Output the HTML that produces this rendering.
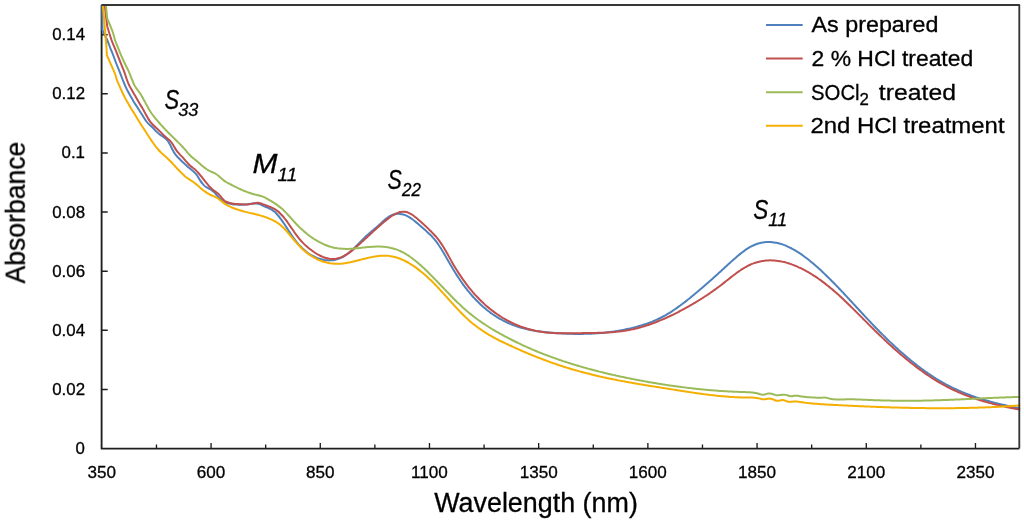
<!DOCTYPE html><html><head><meta charset="utf-8"><style>html,body{margin:0;padding:0;background:#fff;}svg{display:block;}text{font-family:"Liberation Sans",sans-serif;fill:#000;stroke:#000;stroke-width:0.3px;}</style></head><body>
<svg width="1024" height="521" viewBox="0 0 1024 521">
<rect width="1024" height="521" fill="#fff"/>
<defs><clipPath id="pc"><rect x="101.0" y="4.0" width="919.2" height="445.5"/></clipPath><filter id="gs" x="0" y="0" width="1024" height="521" filterUnits="userSpaceOnUse" color-interpolation-filters="sRGB"><feColorMatrix type="saturate" values="0"/></filter></defs>
<path d="M101.6,5.0 L101.6,448.65 L1019.3,448.65" fill="none" stroke="#1e1e1e" stroke-width="1.85" stroke-linejoin="round"/>
<path d="M156.47,448 V444.5 M211.07,448 V442.9 M265.67,448 V444.5 M320.27,448 V442.9 M374.87,448 V444.5 M429.47,448 V442.9 M484.07,448 V444.5 M538.67,448 V442.9 M593.27,448 V444.5 M647.87,448 V442.9 M702.47,448 V444.5 M757.07,448 V442.9 M811.67,448 V444.5 M866.27,448 V442.9 M920.87,448 V444.5 M975.47,448 V442.9" stroke="#1e1e1e" stroke-width="1.35" fill="none"/>
<path d="M101.5,389.47 H107.7 M101.5,330.34 H107.7 M101.5,271.21 H107.7 M101.5,212.08 H107.7 M101.5,152.95 H107.7 M101.5,93.82 H107.7 M101.5,34.69 H107.7" stroke="#1e1e1e" stroke-width="1.5" fill="none"/>
<g clip-path="url(#pc)" fill="none" stroke-width="2" stroke-linejoin="round" stroke-linecap="round">
<path d="M102.30,4.00 L102.50,30.00 L103.40,32.40 C104.03,33.67 106.07,37.43 107.20,40.00 C108.33,42.57 109.18,45.22 110.20,47.80 C111.22,50.38 112.32,52.97 113.30,55.50 C114.28,58.03 115.12,60.47 116.10,63.00 C117.08,65.53 118.08,67.87 119.20,70.70 C120.32,73.53 121.78,77.43 122.80,80.00 C123.82,82.57 124.37,84.05 125.30,86.10 C126.23,88.15 127.37,90.37 128.40,92.30 C129.43,94.23 130.48,95.92 131.50,97.70 C132.52,99.48 133.48,101.35 134.50,103.00 C135.52,104.65 136.63,106.10 137.60,107.60 C138.57,109.10 139.52,110.75 140.30,111.99 C141.08,113.22 141.63,113.95 142.30,114.99 C142.97,116.03 143.63,117.18 144.30,118.23 C144.97,119.27 145.63,120.35 146.30,121.25 C146.97,122.15 147.63,122.94 148.30,123.64 C148.97,124.34 149.63,124.86 150.30,125.47 C150.97,126.09 151.63,126.67 152.30,127.32 C152.97,127.97 153.63,128.69 154.30,129.38 C154.97,130.07 155.63,130.80 156.30,131.46 C156.97,132.12 157.63,132.78 158.30,133.35 C158.97,133.93 159.63,134.42 160.30,134.89 C160.97,135.37 161.63,135.76 162.30,136.20 C162.97,136.64 163.63,137.02 164.30,137.52 C164.97,138.02 165.63,138.50 166.30,139.18 C166.97,139.85 167.63,140.59 168.30,141.57 C168.97,142.55 169.63,143.78 170.30,145.07 C170.97,146.35 171.63,147.99 172.30,149.29 C172.97,150.58 173.63,151.81 174.30,152.86 C174.97,153.90 175.63,154.75 176.30,155.56 C176.97,156.38 177.63,157.05 178.30,157.74 C178.97,158.43 179.63,159.07 180.30,159.72 C180.97,160.38 181.63,161.03 182.30,161.67 C182.97,162.31 183.63,162.94 184.30,163.56 C184.97,164.18 185.63,164.80 186.30,165.40 C186.97,166.00 187.63,166.59 188.30,167.17 C188.97,167.74 189.63,168.30 190.30,168.86 C190.97,169.41 191.63,169.92 192.30,170.48 C192.97,171.05 193.63,171.59 194.30,172.25 C194.97,172.91 195.63,173.59 196.30,174.44 C196.97,175.29 197.63,176.31 198.30,177.34 C198.97,178.37 199.63,179.61 200.30,180.62 C200.97,181.64 201.63,182.61 202.30,183.45 C202.97,184.28 203.63,185.01 204.30,185.62 C204.97,186.23 205.63,186.67 206.30,187.09 C206.97,187.52 207.63,187.80 208.30,188.16 C208.97,188.52 209.63,188.83 210.30,189.24 C210.97,189.65 211.63,190.09 212.30,190.62 C212.97,191.15 213.63,191.74 214.30,192.41 C214.97,193.08 215.63,193.87 216.30,194.62 C216.97,195.37 217.63,196.20 218.30,196.92 C218.97,197.64 219.63,198.33 220.30,198.94 C220.97,199.54 221.63,200.06 222.30,200.54 C222.97,201.01 223.63,201.42 224.30,201.78 C224.97,202.14 225.63,202.44 226.30,202.71 C226.97,202.98 227.63,203.19 228.30,203.39 C228.97,203.58 229.63,203.73 230.30,203.86 C230.97,203.99 231.63,204.09 232.30,204.18 C232.97,204.27 233.63,204.35 234.30,204.41 C234.97,204.47 235.63,204.53 236.30,204.57 C236.97,204.61 237.63,204.64 238.30,204.66 C238.97,204.69 239.63,204.70 240.30,204.70 C240.97,204.70 241.63,204.69 242.30,204.67 C242.97,204.65 243.63,204.62 244.30,204.58 C244.97,204.54 245.63,204.49 246.30,204.43 C246.97,204.37 247.63,204.30 248.30,204.22 C248.97,204.15 249.63,204.05 250.30,203.96 C250.97,203.87 251.63,203.77 252.30,203.69 C252.97,203.61 253.63,203.53 254.30,203.49 C254.97,203.46 255.63,203.44 256.30,203.48 C256.97,203.52 257.63,203.60 258.30,203.75 C258.97,203.90 259.63,204.13 260.30,204.39 C260.97,204.65 261.63,205.00 262.30,205.32 C262.97,205.63 263.63,205.98 264.30,206.29 C264.97,206.59 265.63,206.86 266.30,207.14 C266.97,207.42 267.63,207.67 268.30,207.97 C268.97,208.26 269.63,208.55 270.30,208.89 C270.97,209.24 271.63,209.60 272.30,210.05 C272.97,210.49 273.63,210.99 274.30,211.56 C274.97,212.13 275.63,212.78 276.30,213.47 C276.97,214.17 277.63,214.94 278.30,215.74 C278.97,216.54 279.63,217.41 280.30,218.30 C280.97,219.19 281.63,220.13 282.30,221.08 C282.97,222.04 283.63,223.03 284.30,224.03 C284.97,225.03 285.63,226.06 286.30,227.08 C286.97,228.10 287.63,229.14 288.30,230.17 C288.97,231.19 289.63,232.23 290.30,233.23 C290.97,234.24 291.63,235.24 292.30,236.21 C292.97,237.18 293.63,238.13 294.30,239.04 C294.97,239.94 295.63,240.82 296.30,241.66 C296.97,242.50 297.63,243.30 298.30,244.06 C298.97,244.83 299.63,245.57 300.30,246.27 C300.97,246.97 301.63,247.64 302.30,248.27 C302.97,248.91 303.63,249.52 304.30,250.09 C304.97,250.67 305.63,251.21 306.30,251.73 C306.97,252.25 307.63,252.74 308.30,253.21 C308.97,253.67 309.63,254.11 310.30,254.52 C310.97,254.93 311.63,255.32 312.30,255.68 C312.97,256.04 313.63,256.38 314.30,256.70 C314.97,257.02 315.63,257.31 316.30,257.59 C316.97,257.86 317.63,258.12 318.30,258.35 C318.97,258.59 319.63,258.81 320.30,259.00 C320.97,259.20 321.63,259.38 322.30,259.54 C322.97,259.69 323.63,259.83 324.30,259.94 C324.97,260.06 325.63,260.15 326.30,260.22 C326.97,260.29 327.63,260.34 328.30,260.37 C328.97,260.39 329.63,260.40 330.30,260.37 C330.97,260.35 331.63,260.31 332.30,260.23 C332.97,260.16 333.63,260.06 334.30,259.94 C334.97,259.82 335.63,259.67 336.30,259.49 C336.97,259.32 337.63,259.11 338.30,258.88 C338.97,258.65 339.63,258.39 340.30,258.10 C340.97,257.81 341.63,257.50 342.30,257.15 C342.97,256.80 343.63,256.42 344.30,256.02 C344.97,255.61 345.63,255.17 346.30,254.71 C346.97,254.24 347.63,253.75 348.30,253.23 C348.97,252.72 349.63,252.18 350.30,251.62 C350.97,251.06 351.63,250.47 352.30,249.87 C352.97,249.27 353.63,248.65 354.30,248.02 C354.97,247.39 355.63,246.74 356.30,246.08 C356.97,245.42 357.63,244.74 358.30,244.06 C358.97,243.38 359.63,242.68 360.30,241.99 C360.97,241.30 361.63,240.60 362.30,239.92 C362.97,239.24 363.63,238.56 364.30,237.91 C364.97,237.26 365.63,236.62 366.30,236.00 C366.97,235.38 367.63,234.79 368.30,234.20 C368.97,233.61 369.63,233.03 370.30,232.46 C370.97,231.89 371.63,231.34 372.30,230.78 C372.97,230.22 373.63,229.66 374.30,229.10 C374.97,228.54 375.63,227.98 376.30,227.41 C376.97,226.84 377.63,226.27 378.30,225.68 C378.97,225.09 379.63,224.48 380.30,223.87 C380.97,223.26 381.63,222.63 382.30,222.02 C382.97,221.41 383.63,220.80 384.30,220.21 C384.97,219.63 385.63,219.05 386.30,218.53 C386.97,218.00 387.63,217.49 388.30,217.04 C388.97,216.59 389.63,216.18 390.30,215.82 C390.97,215.47 391.63,215.16 392.30,214.90 C392.97,214.65 393.63,214.43 394.30,214.27 C394.97,214.10 395.63,213.98 396.30,213.90 C396.97,213.82 397.63,213.79 398.30,213.79 C398.97,213.80 399.63,213.84 400.30,213.93 C400.97,214.01 401.63,214.14 402.30,214.30 C402.97,214.46 403.63,214.66 404.30,214.90 C404.97,215.13 405.63,215.40 406.30,215.70 C406.97,216.00 407.63,216.34 408.30,216.71 C408.97,217.07 409.63,217.48 410.30,217.90 C410.97,218.33 411.63,218.79 412.30,219.26 C412.97,219.74 413.63,220.25 414.30,220.77 C414.97,221.29 415.63,221.83 416.30,222.38 C416.97,222.94 417.63,223.51 418.30,224.08 C418.97,224.66 419.63,225.24 420.30,225.83 C420.97,226.42 421.63,227.01 422.30,227.60 C422.97,228.19 423.63,228.78 424.30,229.37 C424.97,229.95 425.63,230.52 426.30,231.11 C426.97,231.70 427.63,232.28 428.30,232.89 C428.97,233.50 429.63,234.12 430.30,234.78 C430.97,235.44 431.63,236.11 432.30,236.84 C432.97,237.57 433.63,238.33 434.30,239.14 C434.97,239.96 435.63,240.82 436.30,241.72 C436.97,242.63 437.63,243.57 438.30,244.55 C438.97,245.53 439.63,246.54 440.30,247.58 C440.97,248.62 441.63,249.69 442.30,250.78 C442.97,251.86 443.63,252.98 444.30,254.10 C444.97,255.22 445.63,256.36 446.30,257.50 C446.97,258.64 447.63,259.80 448.30,260.95 C448.97,262.10 449.63,263.25 450.30,264.40 C450.97,265.54 451.63,266.69 452.30,267.82 C452.97,268.94 453.63,270.06 454.30,271.16 C454.97,272.25 455.63,273.33 456.30,274.38 C456.97,275.44 457.63,276.47 458.30,277.48 C458.97,278.50 459.63,279.49 460.30,280.47 C460.97,281.44 461.63,282.39 462.30,283.33 C462.97,284.26 463.63,285.18 464.30,286.07 C464.97,286.97 465.63,287.85 466.30,288.71 C466.97,289.57 467.63,290.41 468.30,291.23 C468.97,292.06 469.63,292.86 470.30,293.65 C470.97,294.44 471.63,295.21 472.30,295.96 C472.97,296.72 473.63,297.46 474.30,298.18 C474.97,298.90 475.63,299.60 476.30,300.29 C476.97,300.98 477.63,301.65 478.30,302.31 C478.97,302.97 479.63,303.61 480.30,304.24 C480.97,304.86 481.63,305.47 482.30,306.07 C482.97,306.67 483.63,307.25 484.30,307.82 C484.97,308.39 485.63,308.94 486.30,309.49 C486.97,310.03 487.63,310.56 488.30,311.07 C488.97,311.59 489.63,312.09 490.30,312.58 C490.97,313.07 491.63,313.54 492.30,314.01 C492.97,314.47 493.63,314.92 494.30,315.36 C494.97,315.81 495.63,316.23 496.30,316.65 C496.97,317.07 497.63,317.48 498.30,317.87 C498.97,318.27 499.63,318.66 500.30,319.03 C500.97,319.40 501.63,319.77 502.30,320.12 C502.97,320.48 503.63,320.82 504.30,321.16 C504.97,321.49 505.63,321.81 506.30,322.13 C506.97,322.44 507.63,322.75 508.30,323.04 C508.97,323.34 509.63,323.63 510.30,323.90 C510.97,324.18 511.63,324.45 512.30,324.71 C512.97,324.97 513.63,325.23 514.30,325.47 C514.97,325.71 515.63,325.95 516.30,326.18 C516.97,326.40 517.63,326.62 518.30,326.84 C518.97,327.05 519.63,327.25 520.30,327.45 C520.97,327.65 521.63,327.84 522.30,328.02 C522.97,328.21 523.63,328.39 524.30,328.56 C524.97,328.73 525.63,328.89 526.30,329.05 C526.97,329.21 527.63,329.36 528.30,329.50 C528.97,329.65 529.63,329.79 530.30,329.92 C530.97,330.06 531.63,330.19 532.30,330.31 C532.97,330.43 533.63,330.55 534.30,330.66 C534.97,330.78 535.63,330.89 536.30,330.99 C536.97,331.09 537.63,331.19 538.30,331.29 C538.97,331.38 539.63,331.48 540.30,331.56 C540.97,331.65 541.63,331.73 542.30,331.81 C542.97,331.89 543.63,331.97 544.30,332.04 C544.97,332.12 545.63,332.19 546.30,332.25 C546.97,332.32 547.63,332.38 548.30,332.45 C548.97,332.51 549.63,332.57 550.30,332.62 C550.97,332.68 551.63,332.74 552.30,332.79 C552.97,332.84 553.63,332.89 554.30,332.94 C554.97,332.99 555.63,333.04 556.30,333.08 C556.97,333.13 557.63,333.18 558.30,333.22 C558.97,333.26 559.63,333.30 560.30,333.34 C560.97,333.38 561.63,333.42 562.30,333.45 C562.97,333.49 563.63,333.52 564.30,333.55 C564.97,333.58 565.63,333.61 566.30,333.64 C566.97,333.67 567.63,333.70 568.30,333.72 C568.97,333.74 569.63,333.76 570.30,333.78 C570.97,333.80 571.63,333.82 572.30,333.84 C572.97,333.85 573.63,333.86 574.30,333.88 C574.97,333.89 575.63,333.90 576.30,333.90 C576.97,333.91 577.63,333.91 578.30,333.91 C578.97,333.92 579.63,333.92 580.30,333.91 C580.97,333.91 581.63,333.91 582.30,333.90 C582.97,333.89 583.63,333.88 584.30,333.87 C584.97,333.86 585.63,333.84 586.30,333.82 C586.97,333.81 587.63,333.79 588.30,333.76 C588.97,333.74 589.63,333.72 590.30,333.69 C590.97,333.66 591.63,333.63 592.30,333.60 C592.97,333.56 593.63,333.53 594.30,333.49 C594.97,333.45 595.63,333.41 596.30,333.36 C596.97,333.32 597.63,333.27 598.30,333.22 C598.97,333.17 599.63,333.12 600.30,333.06 C600.97,333.01 601.63,332.95 602.30,332.89 C602.97,332.83 603.63,332.76 604.30,332.69 C604.97,332.63 605.63,332.55 606.30,332.48 C606.97,332.41 607.63,332.33 608.30,332.25 C608.97,332.17 609.63,332.09 610.30,332.00 C610.97,331.91 611.63,331.82 612.30,331.73 C612.97,331.64 613.63,331.54 614.30,331.44 C614.97,331.34 615.63,331.24 616.30,331.13 C616.97,331.03 617.63,330.92 618.30,330.80 C618.97,330.69 619.63,330.57 620.30,330.45 C620.97,330.33 621.63,330.21 622.30,330.08 C622.97,329.95 623.63,329.82 624.30,329.69 C624.97,329.56 625.63,329.42 626.30,329.28 C626.97,329.13 627.63,328.99 628.30,328.84 C628.97,328.69 629.63,328.54 630.30,328.38 C630.97,328.22 631.63,328.06 632.30,327.90 C632.97,327.74 633.63,327.57 634.30,327.40 C634.97,327.22 635.63,327.05 636.30,326.87 C636.97,326.69 637.63,326.51 638.30,326.32 C638.97,326.13 639.63,325.94 640.30,325.74 C640.97,325.54 641.63,325.34 642.30,325.13 C642.97,324.93 643.63,324.72 644.30,324.50 C644.97,324.28 645.63,324.06 646.30,323.83 C646.97,323.60 647.63,323.37 648.30,323.12 C648.97,322.88 649.63,322.64 650.30,322.38 C650.97,322.13 651.63,321.87 652.30,321.60 C652.97,321.33 653.63,321.06 654.30,320.77 C654.97,320.49 655.63,320.20 656.30,319.90 C656.97,319.60 657.63,319.30 658.30,318.98 C658.97,318.67 659.63,318.35 660.30,318.02 C660.97,317.68 661.63,317.34 662.30,317.00 C662.97,316.65 663.63,316.29 664.30,315.92 C664.97,315.55 665.63,315.18 666.30,314.79 C666.97,314.40 667.63,314.01 668.30,313.60 C668.97,313.20 669.63,312.78 670.30,312.36 C670.97,311.94 671.63,311.50 672.30,311.07 C672.97,310.63 673.63,310.18 674.30,309.73 C674.97,309.27 675.63,308.81 676.30,308.34 C676.97,307.87 677.63,307.40 678.30,306.92 C678.97,306.43 679.63,305.95 680.30,305.45 C680.97,304.96 681.63,304.46 682.30,303.95 C682.97,303.45 683.63,302.94 684.30,302.42 C684.97,301.91 685.63,301.39 686.30,300.86 C686.97,300.34 687.63,299.81 688.30,299.28 C688.97,298.75 689.63,298.21 690.30,297.67 C690.97,297.13 691.63,296.59 692.30,296.05 C692.97,295.50 693.63,294.95 694.30,294.40 C694.97,293.85 695.63,293.29 696.30,292.74 C696.97,292.18 697.63,291.62 698.30,291.05 C698.97,290.49 699.63,289.93 700.30,289.36 C700.97,288.79 701.63,288.22 702.30,287.64 C702.97,287.07 703.63,286.49 704.30,285.92 C704.97,285.34 705.63,284.76 706.30,284.17 C706.97,283.59 707.63,283.01 708.30,282.42 C708.97,281.83 709.63,281.24 710.30,280.65 C710.97,280.06 711.63,279.47 712.30,278.88 C712.97,278.28 713.63,277.69 714.30,277.09 C714.97,276.49 715.63,275.89 716.30,275.29 C716.97,274.69 717.63,274.09 718.30,273.49 C718.97,272.88 719.63,272.28 720.30,271.67 C720.97,271.07 721.63,270.46 722.30,269.85 C722.97,269.24 723.63,268.63 724.30,268.02 C724.97,267.41 725.63,266.80 726.30,266.19 C726.97,265.58 727.63,264.97 728.30,264.36 C728.97,263.75 729.63,263.14 730.30,262.53 C730.97,261.93 731.63,261.32 732.30,260.72 C732.97,260.12 733.63,259.53 734.30,258.94 C734.97,258.35 735.63,257.77 736.30,257.20 C736.97,256.63 737.63,256.06 738.30,255.51 C738.97,254.95 739.63,254.41 740.30,253.87 C740.97,253.34 741.63,252.82 742.30,252.31 C742.97,251.80 743.63,251.31 744.30,250.83 C744.97,250.35 745.63,249.88 746.30,249.44 C746.97,248.99 747.63,248.56 748.30,248.15 C748.97,247.74 749.63,247.34 750.30,246.97 C750.97,246.60 751.63,246.25 752.30,245.92 C752.97,245.59 753.63,245.28 754.30,244.99 C754.97,244.71 755.63,244.44 756.30,244.20 C756.97,243.96 757.63,243.74 758.30,243.53 C758.97,243.33 759.63,243.15 760.30,242.99 C760.97,242.83 761.63,242.69 762.30,242.57 C762.97,242.45 763.63,242.35 764.30,242.27 C764.97,242.19 765.63,242.13 766.30,242.09 C766.97,242.04 767.63,242.02 768.30,242.01 C768.97,242.01 769.63,242.02 770.30,242.05 C770.97,242.08 771.63,242.13 772.30,242.19 C772.97,242.26 773.63,242.34 774.30,242.44 C774.97,242.54 775.63,242.65 776.30,242.78 C776.97,242.92 777.63,243.06 778.30,243.23 C778.97,243.39 779.63,243.57 780.30,243.77 C780.97,243.96 781.63,244.17 782.30,244.40 C782.97,244.62 783.63,244.86 784.30,245.12 C784.97,245.37 785.63,245.64 786.30,245.92 C786.97,246.20 787.63,246.50 788.30,246.81 C788.97,247.12 789.63,247.44 790.30,247.77 C790.97,248.11 791.63,248.46 792.30,248.82 C792.97,249.18 793.63,249.55 794.30,249.93 C794.97,250.32 795.63,250.72 796.30,251.12 C796.97,251.53 797.63,251.95 798.30,252.38 C798.97,252.81 799.63,253.25 800.30,253.70 C800.97,254.15 801.63,254.61 802.30,255.08 C802.97,255.55 803.63,256.03 804.30,256.52 C804.97,257.01 805.63,257.51 806.30,258.02 C806.97,258.53 807.63,259.04 808.30,259.57 C808.97,260.09 809.63,260.63 810.30,261.17 C810.97,261.71 811.63,262.26 812.30,262.82 C812.97,263.37 813.63,263.94 814.30,264.51 C814.97,265.08 815.63,265.66 816.30,266.25 C816.97,266.84 817.63,267.43 818.30,268.03 C818.97,268.63 819.63,269.24 820.30,269.85 C820.97,270.46 821.63,271.08 822.30,271.71 C822.97,272.33 823.63,272.96 824.30,273.60 C824.97,274.23 825.63,274.88 826.30,275.52 C826.97,276.17 827.63,276.82 828.30,277.48 C828.97,278.14 829.63,278.80 830.30,279.47 C830.97,280.13 831.63,280.81 832.30,281.48 C832.97,282.16 833.63,282.84 834.30,283.52 C834.97,284.20 835.63,284.89 836.30,285.58 C836.97,286.27 837.63,286.96 838.30,287.66 C838.97,288.36 839.63,289.06 840.30,289.76 C840.97,290.46 841.63,291.17 842.30,291.87 C842.97,292.58 843.63,293.29 844.30,294.00 C844.97,294.72 845.63,295.43 846.30,296.15 C846.97,296.86 847.63,297.58 848.30,298.30 C848.97,299.02 849.63,299.74 850.30,300.46 C850.97,301.18 851.63,301.90 852.30,302.62 C852.97,303.35 853.63,304.07 854.30,304.79 C854.97,305.51 855.63,306.24 856.30,306.96 C856.97,307.68 857.63,308.41 858.30,309.13 C858.97,309.85 859.63,310.58 860.30,311.30 C860.97,312.02 861.63,312.74 862.30,313.46 C862.97,314.18 863.63,314.90 864.30,315.61 C864.97,316.33 865.63,317.05 866.30,317.76 C866.97,318.47 867.63,319.18 868.30,319.89 C868.97,320.60 869.63,321.31 870.30,322.01 C870.97,322.72 871.63,323.42 872.30,324.12 C872.97,324.82 873.63,325.51 874.30,326.20 C874.97,326.90 875.63,327.59 876.30,328.27 C876.97,328.96 877.63,329.64 878.30,330.32 C878.97,331.00 879.63,331.67 880.30,332.34 C880.97,333.02 881.63,333.68 882.30,334.35 C882.97,335.01 883.63,335.67 884.30,336.33 C884.97,336.99 885.63,337.64 886.30,338.29 C886.97,338.94 887.63,339.59 888.30,340.23 C888.97,340.87 889.63,341.51 890.30,342.14 C890.97,342.78 891.63,343.41 892.30,344.03 C892.97,344.66 893.63,345.28 894.30,345.90 C894.97,346.52 895.63,347.13 896.30,347.74 C896.97,348.35 897.63,348.96 898.30,349.56 C898.97,350.16 899.63,350.76 900.30,351.35 C900.97,351.94 901.63,352.53 902.30,353.11 C902.97,353.70 903.63,354.28 904.30,354.85 C904.97,355.43 905.63,356.00 906.30,356.57 C906.97,357.13 907.63,357.69 908.30,358.25 C908.97,358.81 909.63,359.36 910.30,359.91 C910.97,360.46 911.63,361.00 912.30,361.54 C912.97,362.08 913.63,362.61 914.30,363.14 C914.97,363.67 915.63,364.19 916.30,364.71 C916.97,365.23 917.63,365.75 918.30,366.26 C918.97,366.76 919.63,367.27 920.30,367.77 C920.97,368.27 921.63,368.76 922.30,369.25 C922.97,369.74 923.63,370.22 924.30,370.70 C924.97,371.18 925.63,371.66 926.30,372.12 C926.97,372.59 927.63,373.06 928.30,373.51 C928.97,373.97 929.63,374.42 930.30,374.87 C930.97,375.32 931.63,375.76 932.30,376.19 C932.97,376.63 933.63,377.06 934.30,377.49 C934.97,377.91 935.63,378.33 936.30,378.74 C936.97,379.16 937.63,379.57 938.30,379.97 C938.97,380.37 939.63,380.77 940.30,381.16 C940.97,381.55 941.63,381.94 942.30,382.32 C942.97,382.69 943.63,383.07 944.30,383.44 C944.97,383.80 945.63,384.17 946.30,384.52 C946.97,384.88 947.63,385.23 948.30,385.58 C948.97,385.93 949.63,386.27 950.30,386.60 C950.97,386.94 951.63,387.27 952.30,387.59 C952.97,387.92 953.63,388.24 954.30,388.56 C954.97,388.87 955.63,389.18 956.30,389.49 C956.97,389.79 957.63,390.09 958.30,390.39 C958.97,390.69 959.63,390.98 960.30,391.27 C960.97,391.55 961.63,391.84 962.30,392.11 C962.97,392.39 963.63,392.67 964.30,392.94 C964.97,393.20 965.63,393.47 966.30,393.73 C966.97,393.99 967.63,394.25 968.30,394.50 C968.97,394.76 969.63,395.00 970.30,395.25 C970.97,395.50 971.63,395.74 972.30,395.97 C972.97,396.21 973.63,396.45 974.30,396.68 C974.97,396.91 975.63,397.13 976.30,397.36 C976.97,397.58 977.63,397.80 978.30,398.02 C978.97,398.23 979.63,398.45 980.30,398.66 C980.97,398.87 981.63,399.07 982.30,399.28 C982.97,399.48 983.63,399.68 984.30,399.88 C984.97,400.08 985.63,400.27 986.30,400.47 C986.97,400.66 987.63,400.85 988.30,401.03 C988.97,401.22 989.63,401.40 990.30,401.59 C990.97,401.77 991.63,401.95 992.30,402.12 C992.97,402.30 993.63,402.47 994.30,402.65 C994.97,402.82 995.63,402.99 996.30,403.16 C996.97,403.32 997.63,403.49 998.30,403.65 C998.97,403.82 999.63,403.98 1000.30,404.14 C1000.97,404.30 1001.63,404.46 1002.30,404.61 C1002.97,404.77 1003.63,404.92 1004.30,405.08 C1004.97,405.23 1005.63,405.38 1006.30,405.53 C1006.97,405.68 1007.63,405.83 1008.30,405.98 C1008.97,406.12 1009.63,406.27 1010.30,406.41 C1010.97,406.56 1011.63,406.70 1012.30,406.84 C1012.97,406.99 1013.63,407.13 1014.30,407.27 C1014.97,407.41 1015.63,407.55 1016.30,407.69 C1016.97,407.83 1017.68,407.98 1018.30,408.10 C1018.92,408.23 1019.72,408.39 1020.00,408.45" stroke="#4F81BD"/>
<path d="M104.50,4.00 L106.30,19.00 L107.30,26.50 C108.00,28.75 110.28,36.47 111.50,40.00 C112.72,43.53 113.57,45.15 114.60,47.70 C115.63,50.25 116.68,52.75 117.70,55.30 C118.72,57.85 119.68,60.43 120.70,63.00 C121.72,65.57 122.75,67.87 123.80,70.70 C124.85,73.53 126.10,77.55 127.00,80.00 C127.90,82.45 128.33,83.62 129.20,85.40 C130.07,87.18 131.18,88.92 132.20,90.70 C133.22,92.48 134.27,94.30 135.30,96.10 C136.33,97.90 137.58,100.08 138.40,101.50 C139.22,102.92 139.57,103.56 140.20,104.61 C140.83,105.66 141.53,106.65 142.20,107.78 C142.87,108.90 143.53,110.16 144.20,111.39 C144.87,112.61 145.53,113.91 146.20,115.11 C146.87,116.32 147.53,117.53 148.20,118.61 C148.87,119.69 149.53,120.68 150.20,121.58 C150.87,122.47 151.53,123.25 152.20,124.00 C152.87,124.74 153.53,125.40 154.20,126.05 C154.87,126.69 155.53,127.28 156.20,127.89 C156.87,128.49 157.53,129.07 158.20,129.69 C158.87,130.31 159.53,130.95 160.20,131.62 C160.87,132.29 161.53,133.00 162.20,133.69 C162.87,134.38 163.53,135.09 164.20,135.74 C164.87,136.39 165.53,137.03 166.20,137.60 C166.87,138.17 167.53,138.61 168.20,139.15 C168.87,139.69 169.53,140.14 170.20,140.86 C170.87,141.58 171.53,142.49 172.20,143.48 C172.87,144.47 173.53,145.71 174.20,146.80 C174.87,147.90 175.53,149.09 176.20,150.07 C176.87,151.06 177.53,151.91 178.20,152.71 C178.87,153.51 179.53,154.18 180.20,154.88 C180.87,155.59 181.53,156.21 182.20,156.92 C182.87,157.62 183.53,158.35 184.20,159.11 C184.87,159.87 185.53,160.69 186.20,161.46 C186.87,162.23 187.53,163.01 188.20,163.72 C188.87,164.43 189.53,165.11 190.20,165.71 C190.87,166.31 191.53,166.80 192.20,167.31 C192.87,167.83 193.53,168.25 194.20,168.80 C194.87,169.35 195.53,169.93 196.20,170.59 C196.87,171.24 197.53,171.97 198.20,172.72 C198.87,173.47 199.53,174.27 200.20,175.09 C200.87,175.90 201.53,176.76 202.20,177.60 C202.87,178.45 203.53,179.32 204.20,180.16 C204.87,181.01 205.53,181.86 206.20,182.67 C206.87,183.49 207.53,184.29 208.20,185.06 C208.87,185.82 209.53,186.56 210.20,187.26 C210.87,187.95 211.53,188.61 212.20,189.22 C212.87,189.82 213.53,190.37 214.20,190.87 C214.87,191.38 215.53,191.78 216.20,192.26 C216.87,192.74 217.53,193.17 218.20,193.77 C218.87,194.38 219.53,195.11 220.20,195.87 C220.87,196.63 221.53,197.57 222.20,198.33 C222.87,199.09 223.53,199.86 224.20,200.43 C224.87,201.00 225.53,201.41 226.20,201.75 C226.87,202.10 227.53,202.31 228.20,202.53 C228.87,202.74 229.53,202.90 230.20,203.05 C230.87,203.20 231.53,203.33 232.20,203.44 C232.87,203.55 233.53,203.64 234.20,203.73 C234.87,203.81 235.53,203.87 236.20,203.94 C236.87,204.00 237.53,204.05 238.20,204.11 C238.87,204.16 239.53,204.21 240.20,204.26 C240.87,204.30 241.53,204.35 242.20,204.37 C242.87,204.40 243.53,204.42 244.20,204.43 C244.87,204.43 245.53,204.43 246.20,204.40 C246.87,204.37 247.53,204.33 248.20,204.26 C248.87,204.19 249.53,204.09 250.20,203.98 C250.87,203.87 251.53,203.73 252.20,203.59 C252.87,203.46 253.53,203.31 254.20,203.20 C254.87,203.08 255.53,202.96 256.20,202.90 C256.87,202.84 257.53,202.80 258.20,202.85 C258.87,202.90 259.53,203.02 260.20,203.19 C260.87,203.36 261.53,203.62 262.20,203.87 C262.87,204.12 263.53,204.42 264.20,204.68 C264.87,204.95 265.53,205.20 266.20,205.45 C266.87,205.71 267.53,205.95 268.20,206.20 C268.87,206.46 269.53,206.71 270.20,206.99 C270.87,207.26 271.53,207.54 272.20,207.86 C272.87,208.18 273.53,208.51 274.20,208.89 C274.87,209.26 275.53,209.67 276.20,210.12 C276.87,210.58 277.53,211.07 278.20,211.62 C278.87,212.17 279.53,212.77 280.20,213.42 C280.87,214.07 281.53,214.78 282.20,215.52 C282.87,216.26 283.53,217.06 284.20,217.88 C284.87,218.71 285.53,219.58 286.20,220.47 C286.87,221.37 287.53,222.30 288.20,223.24 C288.87,224.18 289.53,225.16 290.20,226.12 C290.87,227.09 291.53,228.08 292.20,229.05 C292.87,230.03 293.53,231.01 294.20,231.96 C294.87,232.92 295.53,233.87 296.20,234.79 C296.87,235.70 297.53,236.60 298.20,237.46 C298.87,238.31 299.53,239.14 300.20,239.92 C300.87,240.70 301.53,241.43 302.20,242.14 C302.87,242.84 303.53,243.51 304.20,244.15 C304.87,244.79 305.53,245.40 306.20,245.99 C306.87,246.58 307.53,247.14 308.20,247.69 C308.87,248.25 309.53,248.78 310.20,249.30 C310.87,249.81 311.53,250.32 312.20,250.80 C312.87,251.29 313.53,251.76 314.20,252.21 C314.87,252.66 315.53,253.10 316.20,253.51 C316.87,253.92 317.53,254.32 318.20,254.69 C318.87,255.07 319.53,255.42 320.20,255.75 C320.87,256.08 321.53,256.39 322.20,256.68 C322.87,256.96 323.53,257.22 324.20,257.46 C324.87,257.70 325.53,257.91 326.20,258.09 C326.87,258.28 327.53,258.44 328.20,258.57 C328.87,258.70 329.53,258.81 330.20,258.88 C330.87,258.96 331.53,259.01 332.20,259.02 C332.87,259.04 333.53,259.02 334.20,258.98 C334.87,258.93 335.53,258.86 336.20,258.75 C336.87,258.64 337.53,258.49 338.20,258.32 C338.87,258.14 339.53,257.93 340.20,257.68 C340.87,257.44 341.53,257.16 342.20,256.85 C342.87,256.54 343.53,256.20 344.20,255.84 C344.87,255.47 345.53,255.08 346.20,254.66 C346.87,254.25 347.53,253.81 348.20,253.35 C348.87,252.89 349.53,252.40 350.20,251.90 C350.87,251.40 351.53,250.88 352.20,250.35 C352.87,249.82 353.53,249.27 354.20,248.71 C354.87,248.16 355.53,247.58 356.20,247.00 C356.87,246.42 357.53,245.83 358.20,245.24 C358.87,244.65 359.53,244.05 360.20,243.44 C360.87,242.84 361.53,242.23 362.20,241.63 C362.87,241.02 363.53,240.41 364.20,239.80 C364.87,239.18 365.53,238.57 366.20,237.96 C366.87,237.34 367.53,236.73 368.20,236.12 C368.87,235.50 369.53,234.89 370.20,234.28 C370.87,233.66 371.53,233.05 372.20,232.44 C372.87,231.83 373.53,231.22 374.20,230.62 C374.87,230.01 375.53,229.41 376.20,228.81 C376.87,228.21 377.53,227.61 378.20,227.02 C378.87,226.43 379.53,225.84 380.20,225.26 C380.87,224.67 381.53,224.09 382.20,223.52 C382.87,222.95 383.53,222.38 384.20,221.82 C384.87,221.26 385.53,220.71 386.20,220.17 C386.87,219.63 387.53,219.09 388.20,218.58 C388.87,218.07 389.53,217.57 390.20,217.09 C390.87,216.61 391.53,216.15 392.20,215.72 C392.87,215.29 393.53,214.88 394.20,214.51 C394.87,214.13 395.53,213.79 396.20,213.47 C396.87,213.16 397.53,212.88 398.20,212.65 C398.87,212.41 399.53,212.21 400.20,212.06 C400.87,211.90 401.53,211.79 402.20,211.73 C402.87,211.67 403.53,211.65 404.20,211.69 C404.87,211.73 405.53,211.82 406.20,211.97 C406.87,212.12 407.53,212.33 408.20,212.59 C408.87,212.85 409.53,213.17 410.20,213.53 C410.87,213.89 411.53,214.31 412.20,214.75 C412.87,215.19 413.53,215.68 414.20,216.18 C414.87,216.69 415.53,217.23 416.20,217.78 C416.87,218.33 417.53,218.91 418.20,219.49 C418.87,220.07 419.53,220.66 420.20,221.26 C420.87,221.85 421.53,222.45 422.20,223.05 C422.87,223.65 423.53,224.26 424.20,224.87 C424.87,225.49 425.53,226.11 426.20,226.73 C426.87,227.36 427.53,227.99 428.20,228.63 C428.87,229.27 429.53,229.92 430.20,230.57 C430.87,231.23 431.53,231.90 432.20,232.59 C432.87,233.27 433.53,233.97 434.20,234.70 C434.87,235.43 435.53,236.18 436.20,236.96 C436.87,237.74 437.53,238.55 438.20,239.40 C438.87,240.25 439.53,241.13 440.20,242.06 C440.87,242.99 441.53,243.95 442.20,244.97 C442.87,245.99 443.53,247.06 444.20,248.17 C444.87,249.28 445.53,250.46 446.20,251.64 C446.87,252.82 447.53,254.04 448.20,255.25 C448.87,256.46 449.53,257.69 450.20,258.89 C450.87,260.10 451.53,261.29 452.20,262.46 C452.87,263.62 453.53,264.77 454.20,265.89 C454.87,267.01 455.53,268.11 456.20,269.20 C456.87,270.28 457.53,271.34 458.20,272.37 C458.87,273.41 459.53,274.43 460.20,275.43 C460.87,276.43 461.53,277.41 462.20,278.37 C462.87,279.33 463.53,280.27 464.20,281.20 C464.87,282.12 465.53,283.02 466.20,283.91 C466.87,284.80 467.53,285.67 468.20,286.52 C468.87,287.37 469.53,288.20 470.20,289.02 C470.87,289.83 471.53,290.63 472.20,291.42 C472.87,292.20 473.53,292.97 474.20,293.72 C474.87,294.47 475.53,295.21 476.20,295.93 C476.87,296.65 477.53,297.35 478.20,298.04 C478.87,298.74 479.53,299.41 480.20,300.07 C480.87,300.74 481.53,301.38 482.20,302.02 C482.87,302.65 483.53,303.27 484.20,303.88 C484.87,304.49 485.53,305.08 486.20,305.67 C486.87,306.25 487.53,306.82 488.20,307.38 C488.87,307.94 489.53,308.49 490.20,309.02 C490.87,309.56 491.53,310.08 492.20,310.60 C492.87,311.11 493.53,311.61 494.20,312.10 C494.87,312.60 495.53,313.08 496.20,313.55 C496.87,314.02 497.53,314.48 498.20,314.93 C498.87,315.38 499.53,315.82 500.20,316.25 C500.87,316.68 501.53,317.10 502.20,317.51 C502.87,317.92 503.53,318.32 504.20,318.71 C504.87,319.10 505.53,319.48 506.20,319.86 C506.87,320.23 507.53,320.59 508.20,320.94 C508.87,321.30 509.53,321.64 510.20,321.97 C510.87,322.31 511.53,322.63 512.20,322.95 C512.87,323.27 513.53,323.57 514.20,323.87 C514.87,324.17 515.53,324.46 516.20,324.75 C516.87,325.03 517.53,325.30 518.20,325.57 C518.87,325.83 519.53,326.09 520.20,326.34 C520.87,326.59 521.53,326.83 522.20,327.06 C522.87,327.29 523.53,327.52 524.20,327.74 C524.87,327.96 525.53,328.17 526.20,328.37 C526.87,328.57 527.53,328.77 528.20,328.96 C528.87,329.14 529.53,329.32 530.20,329.50 C530.87,329.67 531.53,329.84 532.20,330.00 C532.87,330.16 533.53,330.31 534.20,330.46 C534.87,330.61 535.53,330.75 536.20,330.88 C536.87,331.01 537.53,331.14 538.20,331.26 C538.87,331.38 539.53,331.50 540.20,331.61 C540.87,331.72 541.53,331.82 542.20,331.92 C542.87,332.01 543.53,332.10 544.20,332.19 C544.87,332.28 545.53,332.36 546.20,332.43 C546.87,332.51 547.53,332.58 548.20,332.64 C548.87,332.70 549.53,332.76 550.20,332.82 C550.87,332.87 551.53,332.92 552.20,332.96 C552.87,333.01 553.53,333.05 554.20,333.09 C554.87,333.12 555.53,333.15 556.20,333.18 C556.87,333.21 557.53,333.23 558.20,333.25 C558.87,333.27 559.53,333.29 560.20,333.31 C560.87,333.32 561.53,333.33 562.20,333.34 C562.87,333.35 563.53,333.35 564.20,333.36 C564.87,333.36 565.53,333.36 566.20,333.36 C566.87,333.36 567.53,333.35 568.20,333.35 C568.87,333.34 569.53,333.34 570.20,333.33 C570.87,333.32 571.53,333.31 572.20,333.30 C572.87,333.29 573.53,333.28 574.20,333.27 C574.87,333.26 575.53,333.24 576.20,333.23 C576.87,333.22 577.53,333.20 578.20,333.19 C578.87,333.18 579.53,333.17 580.20,333.15 C580.87,333.14 581.53,333.13 582.20,333.12 C582.87,333.11 583.53,333.10 584.20,333.09 C584.87,333.08 585.53,333.07 586.20,333.06 C586.87,333.05 587.53,333.04 588.20,333.03 C588.87,333.02 589.53,333.01 590.20,333.00 C590.87,332.99 591.53,332.97 592.20,332.96 C592.87,332.95 593.53,332.94 594.20,332.93 C594.87,332.91 595.53,332.90 596.20,332.88 C596.87,332.87 597.53,332.85 598.20,332.83 C598.87,332.82 599.53,332.80 600.20,332.77 C600.87,332.75 601.53,332.73 602.20,332.71 C602.87,332.68 603.53,332.65 604.20,332.63 C604.87,332.60 605.53,332.57 606.20,332.53 C606.87,332.50 607.53,332.46 608.20,332.42 C608.87,332.38 609.53,332.34 610.20,332.30 C610.87,332.25 611.53,332.20 612.20,332.15 C612.87,332.10 613.53,332.05 614.20,331.99 C614.87,331.93 615.53,331.87 616.20,331.81 C616.87,331.74 617.53,331.67 618.20,331.60 C618.87,331.53 619.53,331.45 620.20,331.37 C620.87,331.29 621.53,331.20 622.20,331.11 C622.87,331.02 623.53,330.93 624.20,330.83 C624.87,330.73 625.53,330.63 626.20,330.52 C626.87,330.41 627.53,330.30 628.20,330.18 C628.87,330.06 629.53,329.93 630.20,329.80 C630.87,329.67 631.53,329.54 632.20,329.39 C632.87,329.25 633.53,329.11 634.20,328.95 C634.87,328.80 635.53,328.64 636.20,328.48 C636.87,328.32 637.53,328.15 638.20,327.97 C638.87,327.80 639.53,327.62 640.20,327.44 C640.87,327.25 641.53,327.06 642.20,326.87 C642.87,326.67 643.53,326.47 644.20,326.27 C644.87,326.06 645.53,325.85 646.20,325.64 C646.87,325.42 647.53,325.20 648.20,324.98 C648.87,324.76 649.53,324.53 650.20,324.29 C650.87,324.06 651.53,323.82 652.20,323.58 C652.87,323.34 653.53,323.09 654.20,322.84 C654.87,322.59 655.53,322.33 656.20,322.07 C656.87,321.81 657.53,321.54 658.20,321.27 C658.87,321.00 659.53,320.73 660.20,320.45 C660.87,320.18 661.53,319.89 662.20,319.61 C662.87,319.32 663.53,319.03 664.20,318.74 C664.87,318.44 665.53,318.15 666.20,317.84 C666.87,317.54 667.53,317.24 668.20,316.93 C668.87,316.62 669.53,316.31 670.20,315.99 C670.87,315.67 671.53,315.35 672.20,315.03 C672.87,314.70 673.53,314.38 674.20,314.05 C674.87,313.71 675.53,313.38 676.20,313.04 C676.87,312.70 677.53,312.36 678.20,312.02 C678.87,311.67 679.53,311.33 680.20,310.98 C680.87,310.63 681.53,310.27 682.20,309.91 C682.87,309.56 683.53,309.20 684.20,308.83 C684.87,308.47 685.53,308.11 686.20,307.74 C686.87,307.37 687.53,307.00 688.20,306.62 C688.87,306.25 689.53,305.87 690.20,305.49 C690.87,305.11 691.53,304.72 692.20,304.34 C692.87,303.95 693.53,303.56 694.20,303.16 C694.87,302.77 695.53,302.37 696.20,301.97 C696.87,301.57 697.53,301.16 698.20,300.76 C698.87,300.35 699.53,299.93 700.20,299.52 C700.87,299.10 701.53,298.68 702.20,298.26 C702.87,297.83 703.53,297.40 704.20,296.97 C704.87,296.54 705.53,296.10 706.20,295.66 C706.87,295.22 707.53,294.77 708.20,294.32 C708.87,293.87 709.53,293.42 710.20,292.96 C710.87,292.50 711.53,292.04 712.20,291.57 C712.87,291.10 713.53,290.63 714.20,290.15 C714.87,289.67 715.53,289.19 716.20,288.70 C716.87,288.21 717.53,287.72 718.20,287.22 C718.87,286.72 719.53,286.22 720.20,285.71 C720.87,285.20 721.53,284.68 722.20,284.17 C722.87,283.65 723.53,283.12 724.20,282.60 C724.87,282.07 725.53,281.55 726.20,281.02 C726.87,280.49 727.53,279.96 728.20,279.44 C728.87,278.91 729.53,278.38 730.20,277.86 C730.87,277.34 731.53,276.82 732.20,276.31 C732.87,275.79 733.53,275.28 734.20,274.78 C734.87,274.27 735.53,273.77 736.20,273.28 C736.87,272.80 737.53,272.31 738.20,271.84 C738.87,271.37 739.53,270.91 740.20,270.46 C740.87,270.01 741.53,269.57 742.20,269.14 C742.87,268.72 743.53,268.30 744.20,267.91 C744.87,267.51 745.53,267.13 746.20,266.76 C746.87,266.40 747.53,266.05 748.20,265.71 C748.87,265.38 749.53,265.07 750.20,264.77 C750.87,264.47 751.53,264.18 752.20,263.92 C752.87,263.65 753.53,263.40 754.20,263.16 C754.87,262.93 755.53,262.71 756.20,262.50 C756.87,262.30 757.53,262.11 758.20,261.94 C758.87,261.76 759.53,261.60 760.20,261.46 C760.87,261.32 761.53,261.19 762.20,261.07 C762.87,260.96 763.53,260.86 764.20,260.77 C764.87,260.68 765.53,260.61 766.20,260.55 C766.87,260.49 767.53,260.45 768.20,260.42 C768.87,260.39 769.53,260.37 770.20,260.37 C770.87,260.36 771.53,260.37 772.20,260.39 C772.87,260.41 773.53,260.45 774.20,260.49 C774.87,260.54 775.53,260.60 776.20,260.67 C776.87,260.74 777.53,260.83 778.20,260.92 C778.87,261.02 779.53,261.12 780.20,261.24 C780.87,261.36 781.53,261.49 782.20,261.64 C782.87,261.78 783.53,261.93 784.20,262.09 C784.87,262.26 785.53,262.43 786.20,262.62 C786.87,262.80 787.53,263.00 788.20,263.21 C788.87,263.41 789.53,263.63 790.20,263.86 C790.87,264.08 791.53,264.32 792.20,264.57 C792.87,264.81 793.53,265.07 794.20,265.34 C794.87,265.60 795.53,265.88 796.20,266.16 C796.87,266.44 797.53,266.74 798.20,267.04 C798.87,267.34 799.53,267.65 800.20,267.97 C800.87,268.29 801.53,268.62 802.20,268.95 C802.87,269.29 803.53,269.63 804.20,269.98 C804.87,270.33 805.53,270.69 806.20,271.06 C806.87,271.43 807.53,271.80 808.20,272.19 C808.87,272.57 809.53,272.96 810.20,273.36 C810.87,273.76 811.53,274.17 812.20,274.58 C812.87,275.00 813.53,275.42 814.20,275.85 C814.87,276.29 815.53,276.72 816.20,277.17 C816.87,277.62 817.53,278.07 818.20,278.53 C818.87,279.00 819.53,279.47 820.20,279.94 C820.87,280.42 821.53,280.90 822.20,281.40 C822.87,281.89 823.53,282.39 824.20,282.90 C824.87,283.40 825.53,283.92 826.20,284.44 C826.87,284.96 827.53,285.49 828.20,286.03 C828.87,286.57 829.53,287.11 830.20,287.66 C830.87,288.21 831.53,288.77 832.20,289.34 C832.87,289.90 833.53,290.48 834.20,291.05 C834.87,291.63 835.53,292.22 836.20,292.81 C836.87,293.40 837.53,294.00 838.20,294.60 C838.87,295.20 839.53,295.81 840.20,296.42 C840.87,297.04 841.53,297.66 842.20,298.28 C842.87,298.90 843.53,299.53 844.20,300.16 C844.87,300.79 845.53,301.43 846.20,302.07 C846.87,302.71 847.53,303.35 848.20,304.00 C848.87,304.64 849.53,305.29 850.20,305.94 C850.87,306.60 851.53,307.25 852.20,307.91 C852.87,308.57 853.53,309.23 854.20,309.89 C854.87,310.55 855.53,311.21 856.20,311.88 C856.87,312.55 857.53,313.21 858.20,313.88 C858.87,314.55 859.53,315.22 860.20,315.89 C860.87,316.55 861.53,317.23 862.20,317.89 C862.87,318.56 863.53,319.24 864.20,319.90 C864.87,320.57 865.53,321.24 866.20,321.91 C866.87,322.58 867.53,323.25 868.20,323.92 C868.87,324.58 869.53,325.25 870.20,325.91 C870.87,326.58 871.53,327.24 872.20,327.90 C872.87,328.56 873.53,329.22 874.20,329.87 C874.87,330.53 875.53,331.18 876.20,331.83 C876.87,332.48 877.53,333.13 878.20,333.77 C878.87,334.42 879.53,335.06 880.20,335.70 C880.87,336.33 881.53,336.97 882.20,337.60 C882.87,338.24 883.53,338.87 884.20,339.49 C884.87,340.12 885.53,340.74 886.20,341.36 C886.87,341.98 887.53,342.60 888.20,343.21 C888.87,343.83 889.53,344.44 890.20,345.05 C890.87,345.65 891.53,346.26 892.20,346.86 C892.87,347.46 893.53,348.06 894.20,348.65 C894.87,349.24 895.53,349.83 896.20,350.42 C896.87,351.01 897.53,351.59 898.20,352.17 C898.87,352.75 899.53,353.32 900.20,353.90 C900.87,354.47 901.53,355.04 902.20,355.60 C902.87,356.16 903.53,356.72 904.20,357.28 C904.87,357.84 905.53,358.39 906.20,358.94 C906.87,359.49 907.53,360.03 908.20,360.57 C908.87,361.11 909.53,361.65 910.20,362.18 C910.87,362.71 911.53,363.24 912.20,363.76 C912.87,364.28 913.53,364.80 914.20,365.32 C914.87,365.83 915.53,366.34 916.20,366.85 C916.87,367.35 917.53,367.85 918.20,368.35 C918.87,368.85 919.53,369.34 920.20,369.82 C920.87,370.31 921.53,370.79 922.20,371.27 C922.87,371.75 923.53,372.22 924.20,372.69 C924.87,373.16 925.53,373.62 926.20,374.08 C926.87,374.54 927.53,374.99 928.20,375.44 C928.87,375.89 929.53,376.33 930.20,376.77 C930.87,377.21 931.53,377.64 932.20,378.07 C932.87,378.50 933.53,378.92 934.20,379.34 C934.87,379.76 935.53,380.17 936.20,380.58 C936.87,380.98 937.53,381.39 938.20,381.78 C938.87,382.18 939.53,382.57 940.20,382.95 C940.87,383.34 941.53,383.72 942.20,384.09 C942.87,384.47 943.53,384.83 944.20,385.20 C944.87,385.56 945.53,385.92 946.20,386.27 C946.87,386.62 947.53,386.97 948.20,387.31 C948.87,387.65 949.53,387.99 950.20,388.32 C950.87,388.66 951.53,388.98 952.20,389.30 C952.87,389.63 953.53,389.94 954.20,390.25 C954.87,390.57 955.53,390.87 956.20,391.18 C956.87,391.48 957.53,391.78 958.20,392.07 C958.87,392.36 959.53,392.65 960.20,392.94 C960.87,393.22 961.53,393.50 962.20,393.78 C962.87,394.05 963.53,394.32 964.20,394.59 C964.87,394.86 965.53,395.12 966.20,395.38 C966.87,395.64 967.53,395.89 968.20,396.14 C968.87,396.39 969.53,396.64 970.20,396.88 C970.87,397.12 971.53,397.36 972.20,397.60 C972.87,397.83 973.53,398.06 974.20,398.29 C974.87,398.52 975.53,398.74 976.20,398.96 C976.87,399.18 977.53,399.40 978.20,399.62 C978.87,399.83 979.53,400.04 980.20,400.25 C980.87,400.45 981.53,400.66 982.20,400.86 C982.87,401.06 983.53,401.26 984.20,401.45 C984.87,401.64 985.53,401.84 986.20,402.02 C986.87,402.21 987.53,402.40 988.20,402.58 C988.87,402.76 989.53,402.94 990.20,403.12 C990.87,403.30 991.53,403.47 992.20,403.65 C992.87,403.82 993.53,403.99 994.20,404.15 C994.87,404.32 995.53,404.49 996.20,404.65 C996.87,404.81 997.53,404.97 998.20,405.13 C998.87,405.29 999.53,405.44 1000.20,405.60 C1000.87,405.75 1001.53,405.90 1002.20,406.05 C1002.87,406.20 1003.53,406.35 1004.20,406.49 C1004.87,406.64 1005.53,406.78 1006.20,406.92 C1006.87,407.07 1007.53,407.21 1008.20,407.35 C1008.87,407.48 1009.53,407.62 1010.20,407.76 C1010.87,407.89 1011.53,408.03 1012.20,408.16 C1012.87,408.29 1013.53,408.42 1014.20,408.55 C1014.87,408.68 1015.53,408.81 1016.20,408.94 C1016.87,409.07 1017.57,409.20 1018.20,409.32 C1018.83,409.44 1019.70,409.60 1020.00,409.66" stroke="#C0504D"/>
<path d="M105.80,4.00 L107.20,18.50 C107.67,19.58 109.03,22.63 110.00,25.00 C110.97,27.37 112.17,30.20 113.00,32.70 C113.83,35.20 114.17,37.50 115.00,40.00 C115.83,42.50 116.98,45.15 118.00,47.70 C119.02,50.25 120.00,52.75 121.10,55.30 C122.20,57.85 123.38,60.43 124.60,63.00 C125.82,65.57 127.13,67.87 128.40,70.70 C129.67,73.53 131.18,77.55 132.20,80.00 C133.22,82.45 133.60,83.73 134.50,85.40 C135.40,87.07 136.68,88.68 137.60,90.00 C138.52,91.32 139.27,92.22 140.00,93.31 C140.73,94.40 141.33,95.43 142.00,96.57 C142.67,97.70 143.33,98.93 144.00,100.15 C144.67,101.37 145.33,102.64 146.00,103.87 C146.67,105.10 147.33,106.36 148.00,107.54 C148.67,108.72 149.33,109.89 150.00,110.96 C150.67,112.04 151.33,113.04 152.00,114.00 C152.67,114.95 153.33,115.83 154.00,116.69 C154.67,117.55 155.33,118.35 156.00,119.14 C156.67,119.94 157.33,120.70 158.00,121.46 C158.67,122.22 159.33,122.97 160.00,123.72 C160.67,124.46 161.33,125.20 162.00,125.92 C162.67,126.65 163.33,127.37 164.00,128.08 C164.67,128.80 165.33,129.50 166.00,130.20 C166.67,130.90 167.33,131.59 168.00,132.27 C168.67,132.96 169.33,133.63 170.00,134.31 C170.67,134.98 171.33,135.64 172.00,136.30 C172.67,136.96 173.33,137.61 174.00,138.26 C174.67,138.91 175.33,139.56 176.00,140.21 C176.67,140.85 177.33,141.50 178.00,142.16 C178.67,142.82 179.33,143.48 180.00,144.16 C180.67,144.84 181.33,145.52 182.00,146.23 C182.67,146.94 183.33,147.66 184.00,148.40 C184.67,149.15 185.33,149.93 186.00,150.71 C186.67,151.48 187.33,152.30 188.00,153.06 C188.67,153.81 189.33,154.58 190.00,155.26 C190.67,155.94 191.33,156.55 192.00,157.14 C192.67,157.72 193.33,158.23 194.00,158.77 C194.67,159.31 195.33,159.84 196.00,160.39 C196.67,160.95 197.33,161.52 198.00,162.10 C198.67,162.68 199.33,163.27 200.00,163.85 C200.67,164.43 201.33,165.01 202.00,165.58 C202.67,166.14 203.33,166.71 204.00,167.24 C204.67,167.77 205.33,168.30 206.00,168.77 C206.67,169.25 207.33,169.71 208.00,170.11 C208.67,170.51 209.33,170.86 210.00,171.17 C210.67,171.49 211.33,171.72 212.00,172.00 C212.67,172.28 213.33,172.53 214.00,172.86 C214.67,173.19 215.33,173.56 216.00,173.98 C216.67,174.41 217.33,174.90 218.00,175.42 C218.67,175.95 219.33,176.55 220.00,177.14 C220.67,177.73 221.33,178.40 222.00,178.98 C222.67,179.57 223.33,180.16 224.00,180.66 C224.67,181.17 225.33,181.59 226.00,182.00 C226.67,182.40 227.33,182.75 228.00,183.10 C228.67,183.46 229.33,183.79 230.00,184.13 C230.67,184.48 231.33,184.82 232.00,185.16 C232.67,185.49 233.33,185.83 234.00,186.16 C234.67,186.49 235.33,186.82 236.00,187.14 C236.67,187.47 237.33,187.79 238.00,188.10 C238.67,188.41 239.33,188.72 240.00,189.03 C240.67,189.33 241.33,189.63 242.00,189.92 C242.67,190.21 243.33,190.50 244.00,190.77 C244.67,191.05 245.33,191.32 246.00,191.58 C246.67,191.84 247.33,192.10 248.00,192.34 C248.67,192.58 249.33,192.82 250.00,193.04 C250.67,193.27 251.33,193.48 252.00,193.68 C252.67,193.89 253.33,194.08 254.00,194.26 C254.67,194.44 255.33,194.60 256.00,194.77 C256.67,194.93 257.33,195.09 258.00,195.25 C258.67,195.42 259.33,195.59 260.00,195.78 C260.67,195.97 261.33,196.17 262.00,196.40 C262.67,196.63 263.33,196.89 264.00,197.18 C264.67,197.47 265.33,197.81 266.00,198.15 C266.67,198.50 267.33,198.88 268.00,199.26 C268.67,199.64 269.33,200.03 270.00,200.42 C270.67,200.82 271.33,201.21 272.00,201.62 C272.67,202.02 273.33,202.43 274.00,202.86 C274.67,203.29 275.33,203.73 276.00,204.19 C276.67,204.64 277.33,205.11 278.00,205.61 C278.67,206.10 279.33,206.62 280.00,207.15 C280.67,207.69 281.33,208.25 282.00,208.84 C282.67,209.42 283.33,210.03 284.00,210.67 C284.67,211.31 285.33,211.98 286.00,212.67 C286.67,213.36 287.33,214.08 288.00,214.80 C288.67,215.53 289.33,216.28 290.00,217.03 C290.67,217.77 291.33,218.53 292.00,219.28 C292.67,220.03 293.33,220.78 294.00,221.51 C294.67,222.24 295.33,222.97 296.00,223.67 C296.67,224.37 297.33,225.06 298.00,225.74 C298.67,226.41 299.33,227.07 300.00,227.71 C300.67,228.35 301.33,228.98 302.00,229.59 C302.67,230.20 303.33,230.80 304.00,231.38 C304.67,231.96 305.33,232.53 306.00,233.08 C306.67,233.63 307.33,234.17 308.00,234.69 C308.67,235.21 309.33,235.72 310.00,236.21 C310.67,236.70 311.33,237.18 312.00,237.64 C312.67,238.10 313.33,238.55 314.00,238.98 C314.67,239.41 315.33,239.83 316.00,240.23 C316.67,240.64 317.33,241.02 318.00,241.40 C318.67,241.77 319.33,242.13 320.00,242.48 C320.67,242.82 321.33,243.15 322.00,243.47 C322.67,243.79 323.33,244.09 324.00,244.38 C324.67,244.66 325.33,244.94 326.00,245.20 C326.67,245.46 327.33,245.70 328.00,245.94 C328.67,246.17 329.33,246.39 330.00,246.59 C330.67,246.79 331.33,246.98 332.00,247.16 C332.67,247.34 333.33,247.50 334.00,247.65 C334.67,247.79 335.33,247.93 336.00,248.05 C336.67,248.17 337.33,248.28 338.00,248.37 C338.67,248.47 339.33,248.55 340.00,248.61 C340.67,248.68 341.33,248.74 342.00,248.78 C342.67,248.82 343.33,248.85 344.00,248.87 C344.67,248.89 345.33,248.90 346.00,248.90 C346.67,248.90 347.33,248.89 348.00,248.88 C348.67,248.86 349.33,248.84 350.00,248.80 C350.67,248.77 351.33,248.73 352.00,248.69 C352.67,248.64 353.33,248.59 354.00,248.53 C354.67,248.48 355.33,248.42 356.00,248.35 C356.67,248.29 357.33,248.22 358.00,248.15 C358.67,248.09 359.33,248.01 360.00,247.94 C360.67,247.87 361.33,247.79 362.00,247.72 C362.67,247.64 363.33,247.57 364.00,247.50 C364.67,247.43 365.33,247.35 366.00,247.28 C366.67,247.22 367.33,247.15 368.00,247.08 C368.67,247.02 369.33,246.96 370.00,246.91 C370.67,246.85 371.33,246.80 372.00,246.76 C372.67,246.71 373.33,246.67 374.00,246.64 C374.67,246.61 375.33,246.58 376.00,246.56 C376.67,246.55 377.33,246.54 378.00,246.53 C378.67,246.53 379.33,246.54 380.00,246.56 C380.67,246.58 381.33,246.61 382.00,246.65 C382.67,246.69 383.33,246.74 384.00,246.80 C384.67,246.87 385.33,246.94 386.00,247.03 C386.67,247.12 387.33,247.22 388.00,247.34 C388.67,247.45 389.33,247.58 390.00,247.73 C390.67,247.87 391.33,248.03 392.00,248.20 C392.67,248.37 393.33,248.55 394.00,248.76 C394.67,248.96 395.33,249.17 396.00,249.40 C396.67,249.63 397.33,249.88 398.00,250.14 C398.67,250.41 399.33,250.69 400.00,250.98 C400.67,251.28 401.33,251.59 402.00,251.92 C402.67,252.25 403.33,252.60 404.00,252.96 C404.67,253.32 405.33,253.71 406.00,254.11 C406.67,254.51 407.33,254.92 408.00,255.36 C408.67,255.79 409.33,256.24 410.00,256.70 C410.67,257.17 411.33,257.65 412.00,258.14 C412.67,258.64 413.33,259.15 414.00,259.67 C414.67,260.19 415.33,260.73 416.00,261.27 C416.67,261.82 417.33,262.38 418.00,262.95 C418.67,263.52 419.33,264.10 420.00,264.69 C420.67,265.28 421.33,265.89 422.00,266.50 C422.67,267.11 423.33,267.73 424.00,268.35 C424.67,268.98 425.33,269.61 426.00,270.26 C426.67,270.90 427.33,271.55 428.00,272.20 C428.67,272.86 429.33,273.52 430.00,274.18 C430.67,274.85 431.33,275.52 432.00,276.20 C432.67,276.87 433.33,277.55 434.00,278.24 C434.67,278.92 435.33,279.61 436.00,280.30 C436.67,280.99 437.33,281.68 438.00,282.38 C438.67,283.07 439.33,283.77 440.00,284.47 C440.67,285.16 441.33,285.86 442.00,286.56 C442.67,287.26 443.33,287.96 444.00,288.65 C444.67,289.35 445.33,290.05 446.00,290.74 C446.67,291.44 447.33,292.13 448.00,292.82 C448.67,293.52 449.33,294.20 450.00,294.89 C450.67,295.57 451.33,296.26 452.00,296.93 C452.67,297.61 453.33,298.29 454.00,298.95 C454.67,299.62 455.33,300.29 456.00,300.94 C456.67,301.60 457.33,302.25 458.00,302.89 C458.67,303.54 459.33,304.18 460.00,304.81 C460.67,305.44 461.33,306.06 462.00,306.67 C462.67,307.29 463.33,307.89 464.00,308.49 C464.67,309.08 465.33,309.67 466.00,310.25 C466.67,310.82 467.33,311.39 468.00,311.95 C468.67,312.51 469.33,313.06 470.00,313.60 C470.67,314.15 471.33,314.68 472.00,315.21 C472.67,315.74 473.33,316.25 474.00,316.77 C474.67,317.28 475.33,317.78 476.00,318.28 C476.67,318.77 477.33,319.26 478.00,319.74 C478.67,320.23 479.33,320.70 480.00,321.17 C480.67,321.64 481.33,322.10 482.00,322.56 C482.67,323.01 483.33,323.46 484.00,323.91 C484.67,324.35 485.33,324.79 486.00,325.22 C486.67,325.66 487.33,326.08 488.00,326.50 C488.67,326.93 489.33,327.34 490.00,327.76 C490.67,328.17 491.33,328.57 492.00,328.98 C492.67,329.38 493.33,329.78 494.00,330.17 C494.67,330.57 495.33,330.96 496.00,331.34 C496.67,331.73 497.33,332.11 498.00,332.49 C498.67,332.87 499.33,333.24 500.00,333.62 C500.67,333.99 501.33,334.36 502.00,334.73 C502.67,335.09 503.33,335.45 504.00,335.82 C504.67,336.18 505.33,336.53 506.00,336.89 C506.67,337.24 507.33,337.59 508.00,337.94 C508.67,338.29 509.33,338.64 510.00,338.98 C510.67,339.32 511.33,339.66 512.00,340.00 C512.67,340.33 513.33,340.67 514.00,341.00 C514.67,341.33 515.33,341.66 516.00,341.99 C516.67,342.31 517.33,342.64 518.00,342.96 C518.67,343.28 519.33,343.59 520.00,343.91 C520.67,344.23 521.33,344.54 522.00,344.85 C522.67,345.16 523.33,345.47 524.00,345.77 C524.67,346.08 525.33,346.38 526.00,346.68 C526.67,346.98 527.33,347.27 528.00,347.57 C528.67,347.86 529.33,348.16 530.00,348.45 C530.67,348.74 531.33,349.02 532.00,349.31 C532.67,349.60 533.33,349.88 534.00,350.16 C534.67,350.44 535.33,350.72 536.00,350.99 C536.67,351.27 537.33,351.54 538.00,351.81 C538.67,352.09 539.33,352.36 540.00,352.62 C540.67,352.89 541.33,353.15 542.00,353.42 C542.67,353.68 543.33,353.94 544.00,354.20 C544.67,354.46 545.33,354.71 546.00,354.97 C546.67,355.22 547.33,355.48 548.00,355.73 C548.67,355.98 549.33,356.22 550.00,356.47 C550.67,356.72 551.33,356.96 552.00,357.20 C552.67,357.45 553.33,357.69 554.00,357.93 C554.67,358.17 555.33,358.40 556.00,358.64 C556.67,358.87 557.33,359.11 558.00,359.34 C558.67,359.57 559.33,359.80 560.00,360.03 C560.67,360.25 561.33,360.48 562.00,360.70 C562.67,360.93 563.33,361.15 564.00,361.37 C564.67,361.59 565.33,361.81 566.00,362.03 C566.67,362.25 567.33,362.47 568.00,362.68 C568.67,362.89 569.33,363.11 570.00,363.32 C570.67,363.53 571.33,363.74 572.00,363.95 C572.67,364.15 573.33,364.36 574.00,364.57 C574.67,364.77 575.33,364.97 576.00,365.17 C576.67,365.38 577.33,365.58 578.00,365.77 C578.67,365.97 579.33,366.17 580.00,366.37 C580.67,366.56 581.33,366.75 582.00,366.95 C582.67,367.14 583.33,367.33 584.00,367.52 C584.67,367.71 585.33,367.90 586.00,368.08 C586.67,368.27 587.33,368.46 588.00,368.64 C588.67,368.82 589.33,369.00 590.00,369.19 C590.67,369.37 591.33,369.55 592.00,369.72 C592.67,369.90 593.33,370.08 594.00,370.25 C594.67,370.43 595.33,370.60 596.00,370.77 C596.67,370.95 597.33,371.12 598.00,371.29 C598.67,371.46 599.33,371.63 600.00,371.79 C600.67,371.96 601.33,372.13 602.00,372.29 C602.67,372.46 603.33,372.62 604.00,372.78 C604.67,372.94 605.33,373.10 606.00,373.26 C606.67,373.42 607.33,373.58 608.00,373.74 C608.67,373.90 609.33,374.05 610.00,374.21 C610.67,374.36 611.33,374.52 612.00,374.67 C612.67,374.82 613.33,374.97 614.00,375.12 C614.67,375.27 615.33,375.42 616.00,375.57 C616.67,375.72 617.33,375.87 618.00,376.01 C618.67,376.16 619.33,376.30 620.00,376.45 C620.67,376.59 621.33,376.73 622.00,376.87 C622.67,377.01 623.33,377.15 624.00,377.29 C624.67,377.43 625.33,377.57 626.00,377.71 C626.67,377.85 627.33,377.98 628.00,378.12 C628.67,378.25 629.33,378.39 630.00,378.52 C630.67,378.66 631.33,378.79 632.00,378.92 C632.67,379.05 633.33,379.18 634.00,379.31 C634.67,379.44 635.33,379.57 636.00,379.70 C636.67,379.83 637.33,379.95 638.00,380.08 C638.67,380.20 639.33,380.33 640.00,380.45 C640.67,380.58 641.33,380.70 642.00,380.83 C642.67,380.95 643.33,381.07 644.00,381.19 C644.67,381.31 645.33,381.43 646.00,381.55 C646.67,381.67 647.33,381.79 648.00,381.91 C648.67,382.02 649.33,382.14 650.00,382.26 C650.67,382.37 651.33,382.49 652.00,382.60 C652.67,382.72 653.33,382.83 654.00,382.94 C654.67,383.05 655.33,383.17 656.00,383.28 C656.67,383.39 657.33,383.50 658.00,383.61 C658.67,383.71 659.33,383.82 660.00,383.93 C660.67,384.04 661.33,384.14 662.00,384.25 C662.67,384.35 663.33,384.46 664.00,384.56 C664.67,384.66 665.33,384.77 666.00,384.87 C666.67,384.97 667.33,385.07 668.00,385.17 C668.67,385.27 669.33,385.37 670.00,385.46 C670.67,385.56 671.33,385.66 672.00,385.75 C672.67,385.85 673.33,385.95 674.00,386.04 C674.67,386.13 675.33,386.23 676.00,386.32 C676.67,386.41 677.33,386.50 678.00,386.59 C678.67,386.68 679.33,386.77 680.00,386.86 C680.67,386.95 681.33,387.03 682.00,387.12 C682.67,387.20 683.33,387.29 684.00,387.37 C684.67,387.46 685.33,387.54 686.00,387.62 C686.67,387.71 687.33,387.79 688.00,387.87 C688.67,387.95 689.33,388.03 690.00,388.10 C690.67,388.18 691.33,388.26 692.00,388.33 C692.67,388.41 693.33,388.48 694.00,388.56 C694.67,388.63 695.33,388.71 696.00,388.78 C696.67,388.85 697.33,388.92 698.00,388.99 C698.67,389.06 699.33,389.13 700.00,389.20 C700.67,389.26 701.33,389.33 702.00,389.39 C702.67,389.46 703.33,389.52 704.00,389.59 C704.67,389.65 705.33,389.71 706.00,389.77 C706.67,389.84 707.33,389.90 708.00,389.95 C708.67,390.01 709.33,390.07 710.00,390.13 C710.67,390.19 711.33,390.24 712.00,390.30 C712.67,390.35 713.33,390.40 714.00,390.46 C714.67,390.51 715.33,390.56 716.00,390.61 C716.67,390.66 717.33,390.71 718.00,390.76 C718.67,390.80 719.33,390.85 720.00,390.90 C720.67,390.94 721.33,390.99 722.00,391.03 C722.67,391.07 723.33,391.12 724.00,391.16 C724.67,391.20 725.33,391.24 726.00,391.28 C726.67,391.32 727.33,391.35 728.00,391.39 C728.67,391.43 729.33,391.46 730.00,391.50 C730.67,391.53 731.33,391.56 732.00,391.60 C732.67,391.63 733.33,391.66 734.00,391.69 C734.67,391.72 735.33,391.74 736.00,391.77 C736.67,391.80 737.33,391.82 738.00,391.85 C738.67,391.87 739.33,391.90 740.00,391.92 C740.67,391.94 741.33,391.96 742.00,391.99 C742.67,392.01 743.33,392.03 744.00,392.06 C744.67,392.08 745.33,392.11 746.00,392.13 C746.67,392.16 747.33,392.19 748.00,392.23 C748.67,392.26 749.33,392.30 750.00,392.34 C750.67,392.39 751.33,392.44 752.00,392.49 C752.67,392.55 753.33,392.59 754.00,392.68 C754.67,392.76 755.33,392.84 756.00,392.98 C756.67,393.12 757.33,393.33 758.00,393.53 C758.67,393.73 759.33,393.98 760.00,394.16 C760.67,394.35 761.33,394.54 762.00,394.63 C762.67,394.71 763.33,394.74 764.00,394.65 C764.67,394.57 765.33,394.30 766.00,394.11 C766.67,393.92 767.33,393.63 768.00,393.51 C768.67,393.39 769.33,393.35 770.00,393.40 C770.67,393.45 771.33,393.62 772.00,393.82 C772.67,394.01 773.33,394.35 774.00,394.57 C774.67,394.80 775.33,395.05 776.00,395.16 C776.67,395.27 777.33,395.25 778.00,395.23 C778.67,395.21 779.33,395.11 780.00,395.05 C780.67,394.98 781.33,394.88 782.00,394.82 C782.67,394.77 783.33,394.70 784.00,394.72 C784.67,394.73 785.33,394.77 786.00,394.89 C786.67,395.01 787.33,395.26 788.00,395.46 C788.67,395.66 789.33,395.97 790.00,396.08 C790.67,396.20 791.33,396.20 792.00,396.16 C792.67,396.12 793.33,395.91 794.00,395.83 C794.67,395.74 795.33,395.64 796.00,395.64 C796.67,395.65 797.33,395.76 798.00,395.86 C798.67,395.96 799.33,396.13 800.00,396.25 C800.67,396.37 801.33,396.49 802.00,396.59 C802.67,396.69 803.33,396.77 804.00,396.85 C804.67,396.92 805.33,396.99 806.00,397.04 C806.67,397.10 807.33,397.15 808.00,397.19 C808.67,397.24 809.33,397.28 810.00,397.32 C810.67,397.36 811.33,397.39 812.00,397.43 C812.67,397.47 813.33,397.51 814.00,397.55 C814.67,397.59 815.33,397.65 816.00,397.69 C816.67,397.73 817.33,397.78 818.00,397.80 C818.67,397.82 819.33,397.84 820.00,397.83 C820.67,397.82 821.33,397.77 822.00,397.72 C822.67,397.67 823.33,397.54 824.00,397.52 C824.67,397.50 825.33,397.53 826.00,397.62 C826.67,397.72 827.33,397.94 828.00,398.11 C828.67,398.29 829.33,398.52 830.00,398.69 C830.67,398.85 831.33,398.99 832.00,399.11 C832.67,399.22 833.33,399.31 834.00,399.37 C834.67,399.44 835.33,399.48 836.00,399.51 C836.67,399.54 837.33,399.55 838.00,399.56 C838.67,399.56 839.33,399.55 840.00,399.54 C840.67,399.53 841.33,399.50 842.00,399.48 C842.67,399.46 843.33,399.43 844.00,399.41 C844.67,399.39 845.33,399.36 846.00,399.35 C846.67,399.33 847.33,399.32 848.00,399.32 C848.67,399.31 849.33,399.31 850.00,399.31 C850.67,399.31 851.33,399.31 852.00,399.32 C852.67,399.33 853.33,399.34 854.00,399.36 C854.67,399.37 855.33,399.39 856.00,399.41 C856.67,399.43 857.33,399.45 858.00,399.47 C858.67,399.50 859.33,399.52 860.00,399.55 C860.67,399.58 861.33,399.60 862.00,399.63 C862.67,399.66 863.33,399.69 864.00,399.72 C864.67,399.75 865.33,399.79 866.00,399.82 C866.67,399.85 867.33,399.88 868.00,399.91 C868.67,399.94 869.33,399.97 870.00,400.00 C870.67,400.03 871.33,400.06 872.00,400.08 C872.67,400.11 873.33,400.14 874.00,400.16 C874.67,400.19 875.33,400.21 876.00,400.24 C876.67,400.26 877.33,400.28 878.00,400.31 C878.67,400.33 879.33,400.35 880.00,400.37 C880.67,400.39 881.33,400.41 882.00,400.43 C882.67,400.45 883.33,400.47 884.00,400.48 C884.67,400.50 885.33,400.52 886.00,400.53 C886.67,400.55 887.33,400.56 888.00,400.58 C888.67,400.59 889.33,400.61 890.00,400.62 C890.67,400.63 891.33,400.64 892.00,400.65 C892.67,400.66 893.33,400.67 894.00,400.68 C894.67,400.69 895.33,400.70 896.00,400.71 C896.67,400.72 897.33,400.72 898.00,400.73 C898.67,400.74 899.33,400.74 900.00,400.75 C900.67,400.75 901.33,400.76 902.00,400.76 C902.67,400.76 903.33,400.77 904.00,400.77 C904.67,400.77 905.33,400.77 906.00,400.77 C906.67,400.77 907.33,400.77 908.00,400.77 C908.67,400.77 909.33,400.77 910.00,400.76 C910.67,400.76 911.33,400.76 912.00,400.75 C912.67,400.75 913.33,400.74 914.00,400.74 C914.67,400.73 915.33,400.73 916.00,400.72 C916.67,400.71 917.33,400.71 918.00,400.70 C918.67,400.69 919.33,400.68 920.00,400.67 C920.67,400.66 921.33,400.65 922.00,400.64 C922.67,400.63 923.33,400.62 924.00,400.60 C924.67,400.59 925.33,400.58 926.00,400.56 C926.67,400.55 927.33,400.53 928.00,400.52 C928.67,400.50 929.33,400.49 930.00,400.47 C930.67,400.45 931.33,400.44 932.00,400.42 C932.67,400.40 933.33,400.38 934.00,400.36 C934.67,400.35 935.33,400.33 936.00,400.31 C936.67,400.29 937.33,400.26 938.00,400.24 C938.67,400.22 939.33,400.20 940.00,400.18 C940.67,400.16 941.33,400.13 942.00,400.11 C942.67,400.09 943.33,400.06 944.00,400.04 C944.67,400.01 945.33,399.99 946.00,399.96 C946.67,399.94 947.33,399.91 948.00,399.89 C948.67,399.86 949.33,399.84 950.00,399.81 C950.67,399.78 951.33,399.76 952.00,399.73 C952.67,399.70 953.33,399.67 954.00,399.65 C954.67,399.62 955.33,399.59 956.00,399.56 C956.67,399.53 957.33,399.50 958.00,399.47 C958.67,399.45 959.33,399.42 960.00,399.39 C960.67,399.36 961.33,399.33 962.00,399.30 C962.67,399.27 963.33,399.24 964.00,399.21 C964.67,399.18 965.33,399.15 966.00,399.12 C966.67,399.09 967.33,399.05 968.00,399.02 C968.67,398.99 969.33,398.96 970.00,398.93 C970.67,398.90 971.33,398.87 972.00,398.84 C972.67,398.81 973.33,398.78 974.00,398.74 C974.67,398.71 975.33,398.68 976.00,398.65 C976.67,398.62 977.33,398.59 978.00,398.56 C978.67,398.53 979.33,398.49 980.00,398.46 C980.67,398.43 981.33,398.40 982.00,398.37 C982.67,398.34 983.33,398.31 984.00,398.28 C984.67,398.25 985.33,398.22 986.00,398.19 C986.67,398.15 987.33,398.12 988.00,398.09 C988.67,398.06 989.33,398.03 990.00,398.00 C990.67,397.97 991.33,397.94 992.00,397.92 C992.67,397.89 993.33,397.86 994.00,397.83 C994.67,397.80 995.33,397.77 996.00,397.74 C996.67,397.71 997.33,397.69 998.00,397.66 C998.67,397.63 999.33,397.60 1000.00,397.58 C1000.67,397.55 1001.33,397.52 1002.00,397.50 C1002.67,397.47 1003.33,397.44 1004.00,397.42 C1004.67,397.39 1005.33,397.37 1006.00,397.34 C1006.67,397.32 1007.33,397.29 1008.00,397.27 C1008.67,397.24 1009.33,397.22 1010.00,397.20 C1010.67,397.17 1011.33,397.15 1012.00,397.13 C1012.67,397.11 1013.33,397.09 1014.00,397.07 C1014.67,397.05 1015.33,397.02 1016.00,397.00 C1016.67,396.98 1017.33,396.97 1018.00,396.95 C1018.67,396.93 1019.67,396.90 1020.00,396.89" stroke="#9BBB59"/>
<path d="M102.80,4.00 L104.60,25.00 L105.40,34.20 L105.80,40.00 L106.50,47.70 L106.90,55.30 C107.42,56.47 108.98,59.98 110.00,62.30 C111.02,64.62 112.12,67.17 113.00,69.20 C113.88,71.23 114.65,72.70 115.30,74.50 C115.95,76.30 116.25,78.18 116.90,80.00 C117.55,81.82 118.30,83.35 119.20,85.40 C120.10,87.45 121.28,90.13 122.30,92.30 C123.32,94.47 124.28,96.48 125.30,98.40 C126.32,100.32 127.37,102.00 128.40,103.80 C129.43,105.60 130.48,107.53 131.50,109.20 C132.52,110.87 133.48,112.15 134.50,113.80 C135.52,115.45 136.58,117.42 137.60,119.10 C138.62,120.78 139.77,122.56 140.60,123.86 C141.43,125.17 141.93,125.90 142.60,126.93 C143.27,127.96 143.93,129.01 144.60,130.05 C145.27,131.08 145.93,132.13 146.60,133.17 C147.27,134.20 147.93,135.24 148.60,136.26 C149.27,137.28 149.93,138.29 150.60,139.29 C151.27,140.28 151.93,141.26 152.60,142.21 C153.27,143.16 153.93,144.09 154.60,144.99 C155.27,145.89 155.93,146.76 156.60,147.60 C157.27,148.43 157.93,149.23 158.60,149.99 C159.27,150.74 159.93,151.45 160.60,152.12 C161.27,152.80 161.93,153.42 162.60,154.03 C163.27,154.64 163.93,155.21 164.60,155.80 C165.27,156.39 165.93,156.96 166.60,157.57 C167.27,158.17 167.93,158.79 168.60,159.44 C169.27,160.08 169.93,160.76 170.60,161.45 C171.27,162.13 171.93,162.84 172.60,163.56 C173.27,164.27 173.93,165.00 174.60,165.72 C175.27,166.45 175.93,167.18 176.60,167.90 C177.27,168.62 177.93,169.34 178.60,170.04 C179.27,170.74 179.93,171.44 180.60,172.11 C181.27,172.79 181.93,173.45 182.60,174.08 C183.27,174.71 183.93,175.32 184.60,175.90 C185.27,176.47 185.93,177.02 186.60,177.53 C187.27,178.04 187.93,178.50 188.60,178.95 C189.27,179.41 189.93,179.82 190.60,180.25 C191.27,180.68 191.93,181.09 192.60,181.55 C193.27,182.00 193.93,182.45 194.60,182.96 C195.27,183.46 195.93,184.01 196.60,184.56 C197.27,185.12 197.93,185.71 198.60,186.29 C199.27,186.86 199.93,187.46 200.60,188.03 C201.27,188.59 201.93,189.15 202.60,189.69 C203.27,190.22 203.93,190.74 204.60,191.25 C205.27,191.75 205.93,192.25 206.60,192.70 C207.27,193.16 207.93,193.60 208.60,193.98 C209.27,194.35 209.93,194.67 210.60,194.97 C211.27,195.27 211.93,195.50 212.60,195.78 C213.27,196.05 213.93,196.31 214.60,196.63 C215.27,196.95 215.93,197.31 216.60,197.71 C217.27,198.10 217.93,198.54 218.60,199.02 C219.27,199.49 219.93,200.03 220.60,200.56 C221.27,201.08 221.93,201.65 222.60,202.16 C223.27,202.68 223.93,203.18 224.60,203.64 C225.27,204.09 225.93,204.50 226.60,204.88 C227.27,205.27 227.93,205.61 228.60,205.95 C229.27,206.28 229.93,206.59 230.60,206.89 C231.27,207.19 231.93,207.47 232.60,207.75 C233.27,208.02 233.93,208.28 234.60,208.52 C235.27,208.77 235.93,209.01 236.60,209.24 C237.27,209.47 237.93,209.69 238.60,209.90 C239.27,210.11 239.93,210.31 240.60,210.51 C241.27,210.70 241.93,210.89 242.60,211.08 C243.27,211.26 243.93,211.44 244.60,211.61 C245.27,211.79 245.93,211.96 246.60,212.12 C247.27,212.29 247.93,212.45 248.60,212.62 C249.27,212.78 249.93,212.94 250.60,213.10 C251.27,213.26 251.93,213.42 252.60,213.58 C253.27,213.74 253.93,213.90 254.60,214.06 C255.27,214.22 255.93,214.38 256.60,214.55 C257.27,214.72 257.93,214.89 258.60,215.07 C259.27,215.25 259.93,215.43 260.60,215.62 C261.27,215.81 261.93,216.00 262.60,216.21 C263.27,216.41 263.93,216.62 264.60,216.85 C265.27,217.07 265.93,217.30 266.60,217.55 C267.27,217.80 267.93,218.05 268.60,218.32 C269.27,218.60 269.93,218.88 270.60,219.18 C271.27,219.48 271.93,219.80 272.60,220.13 C273.27,220.46 273.93,220.81 274.60,221.18 C275.27,221.55 275.93,221.93 276.60,222.35 C277.27,222.77 277.93,223.21 278.60,223.68 C279.27,224.16 279.93,224.66 280.60,225.21 C281.27,225.76 281.93,226.34 282.60,226.96 C283.27,227.59 283.93,228.27 284.60,228.97 C285.27,229.68 285.93,230.43 286.60,231.20 C287.27,231.96 287.93,232.75 288.60,233.54 C289.27,234.33 289.93,235.14 290.60,235.94 C291.27,236.73 291.93,237.53 292.60,238.31 C293.27,239.09 293.93,239.88 294.60,240.64 C295.27,241.41 295.93,242.17 296.60,242.92 C297.27,243.66 297.93,244.39 298.60,245.11 C299.27,245.82 299.93,246.52 300.60,247.19 C301.27,247.87 301.93,248.52 302.60,249.15 C303.27,249.78 303.93,250.39 304.60,250.97 C305.27,251.55 305.93,252.10 306.60,252.62 C307.27,253.15 307.93,253.65 308.60,254.13 C309.27,254.61 309.93,255.07 310.60,255.50 C311.27,255.94 311.93,256.35 312.60,256.75 C313.27,257.15 313.93,257.53 314.60,257.89 C315.27,258.25 315.93,258.60 316.60,258.93 C317.27,259.25 317.93,259.57 318.60,259.86 C319.27,260.15 319.93,260.43 320.60,260.69 C321.27,260.95 321.93,261.20 322.60,261.43 C323.27,261.65 323.93,261.86 324.60,262.06 C325.27,262.25 325.93,262.43 326.60,262.59 C327.27,262.75 327.93,262.90 328.60,263.03 C329.27,263.16 329.93,263.27 330.60,263.37 C331.27,263.46 331.93,263.54 332.60,263.61 C333.27,263.67 333.93,263.72 334.60,263.75 C335.27,263.78 335.93,263.80 336.60,263.80 C337.27,263.80 337.93,263.79 338.60,263.76 C339.27,263.73 339.93,263.69 340.60,263.64 C341.27,263.59 341.93,263.53 342.60,263.45 C343.27,263.38 343.93,263.29 344.60,263.20 C345.27,263.10 345.93,262.99 346.60,262.88 C347.27,262.77 347.93,262.65 348.60,262.52 C349.27,262.39 349.93,262.25 350.60,262.11 C351.27,261.97 351.93,261.82 352.60,261.66 C353.27,261.51 353.93,261.35 354.60,261.19 C355.27,261.03 355.93,260.87 356.60,260.70 C357.27,260.53 357.93,260.36 358.60,260.19 C359.27,260.02 359.93,259.85 360.60,259.68 C361.27,259.50 361.93,259.33 362.60,259.16 C363.27,258.99 363.93,258.82 364.60,258.66 C365.27,258.49 365.93,258.32 366.60,258.16 C367.27,258.01 367.93,257.85 368.60,257.70 C369.27,257.55 369.93,257.40 370.60,257.26 C371.27,257.12 371.93,256.98 372.60,256.86 C373.27,256.73 373.93,256.61 374.60,256.50 C375.27,256.39 375.93,256.29 376.60,256.20 C377.27,256.11 377.93,256.02 378.60,255.95 C379.27,255.88 379.93,255.82 380.60,255.78 C381.27,255.73 381.93,255.69 382.60,255.67 C383.27,255.65 383.93,255.64 384.60,255.65 C385.27,255.66 385.93,255.68 386.60,255.72 C387.27,255.75 387.93,255.81 388.60,255.88 C389.27,255.95 389.93,256.04 390.60,256.14 C391.27,256.25 391.93,256.37 392.60,256.51 C393.27,256.65 393.93,256.80 394.60,256.97 C395.27,257.15 395.93,257.33 396.60,257.54 C397.27,257.74 397.93,257.96 398.60,258.20 C399.27,258.43 399.93,258.69 400.60,258.95 C401.27,259.22 401.93,259.50 402.60,259.80 C403.27,260.09 403.93,260.41 404.60,260.73 C405.27,261.06 405.93,261.40 406.60,261.75 C407.27,262.11 407.93,262.48 408.60,262.86 C409.27,263.25 409.93,263.64 410.60,264.05 C411.27,264.46 411.93,264.89 412.60,265.32 C413.27,265.76 413.93,266.21 414.60,266.67 C415.27,267.14 415.93,267.61 416.60,268.10 C417.27,268.59 417.93,269.09 418.60,269.60 C419.27,270.11 419.93,270.64 420.60,271.18 C421.27,271.71 421.93,272.26 422.60,272.82 C423.27,273.38 423.93,273.95 424.60,274.53 C425.27,275.11 425.93,275.71 426.60,276.31 C427.27,276.91 427.93,277.53 428.60,278.15 C429.27,278.78 429.93,279.41 430.60,280.06 C431.27,280.70 431.93,281.36 432.60,282.02 C433.27,282.68 433.93,283.36 434.60,284.04 C435.27,284.72 435.93,285.42 436.60,286.12 C437.27,286.82 437.93,287.52 438.60,288.24 C439.27,288.95 439.93,289.67 440.60,290.39 C441.27,291.12 441.93,291.85 442.60,292.58 C443.27,293.31 443.93,294.05 444.60,294.78 C445.27,295.52 445.93,296.26 446.60,297.00 C447.27,297.74 447.93,298.49 448.60,299.23 C449.27,299.97 449.93,300.71 450.60,301.45 C451.27,302.19 451.93,302.92 452.60,303.66 C453.27,304.39 453.93,305.12 454.60,305.85 C455.27,306.57 455.93,307.30 456.60,308.01 C457.27,308.73 457.93,309.44 458.60,310.14 C459.27,310.84 459.93,311.54 460.60,312.22 C461.27,312.91 461.93,313.59 462.60,314.26 C463.27,314.92 463.93,315.58 464.60,316.23 C465.27,316.88 465.93,317.51 466.60,318.14 C467.27,318.76 467.93,319.37 468.60,319.97 C469.27,320.56 469.93,321.15 470.60,321.72 C471.27,322.29 471.93,322.85 472.60,323.40 C473.27,323.94 473.93,324.48 474.60,325.00 C475.27,325.53 475.93,326.04 476.60,326.54 C477.27,327.04 477.93,327.53 478.60,328.02 C479.27,328.50 479.93,328.97 480.60,329.43 C481.27,329.89 481.93,330.34 482.60,330.79 C483.27,331.23 483.93,331.66 484.60,332.09 C485.27,332.52 485.93,332.93 486.60,333.34 C487.27,333.75 487.93,334.16 488.60,334.55 C489.27,334.95 489.93,335.33 490.60,335.72 C491.27,336.10 491.93,336.47 492.60,336.84 C493.27,337.21 493.93,337.57 494.60,337.93 C495.27,338.29 495.93,338.64 496.60,338.99 C497.27,339.33 497.93,339.68 498.60,340.01 C499.27,340.35 499.93,340.69 500.60,341.02 C501.27,341.35 501.93,341.67 502.60,342.00 C503.27,342.32 503.93,342.64 504.60,342.96 C505.27,343.28 505.93,343.60 506.60,343.91 C507.27,344.23 507.93,344.54 508.60,344.85 C509.27,345.16 509.93,345.47 510.60,345.78 C511.27,346.08 511.93,346.39 512.60,346.70 C513.27,347.00 513.93,347.30 514.60,347.61 C515.27,347.91 515.93,348.21 516.60,348.51 C517.27,348.81 517.93,349.10 518.60,349.40 C519.27,349.69 519.93,349.99 520.60,350.28 C521.27,350.57 521.93,350.86 522.60,351.15 C523.27,351.44 523.93,351.73 524.60,352.01 C525.27,352.30 525.93,352.58 526.60,352.86 C527.27,353.15 527.93,353.43 528.60,353.71 C529.27,353.98 529.93,354.26 530.60,354.54 C531.27,354.81 531.93,355.09 532.60,355.36 C533.27,355.63 533.93,355.90 534.60,356.17 C535.27,356.44 535.93,356.70 536.60,356.97 C537.27,357.23 537.93,357.50 538.60,357.76 C539.27,358.02 539.93,358.28 540.60,358.54 C541.27,358.79 541.93,359.05 542.60,359.30 C543.27,359.56 543.93,359.81 544.60,360.06 C545.27,360.31 545.93,360.56 546.60,360.80 C547.27,361.05 547.93,361.29 548.60,361.54 C549.27,361.78 549.93,362.02 550.60,362.26 C551.27,362.50 551.93,362.73 552.60,362.97 C553.27,363.20 553.93,363.44 554.60,363.67 C555.27,363.90 555.93,364.13 556.60,364.35 C557.27,364.58 557.93,364.81 558.60,365.03 C559.27,365.25 559.93,365.47 560.60,365.69 C561.27,365.91 561.93,366.13 562.60,366.34 C563.27,366.56 563.93,366.77 564.60,366.98 C565.27,367.19 565.93,367.40 566.60,367.61 C567.27,367.81 567.93,368.02 568.60,368.22 C569.27,368.42 569.93,368.62 570.60,368.82 C571.27,369.02 571.93,369.22 572.60,369.41 C573.27,369.61 573.93,369.80 574.60,369.99 C575.27,370.18 575.93,370.37 576.60,370.56 C577.27,370.75 577.93,370.93 578.60,371.12 C579.27,371.30 579.93,371.49 580.60,371.67 C581.27,371.85 581.93,372.03 582.60,372.20 C583.27,372.38 583.93,372.56 584.60,372.73 C585.27,372.90 585.93,373.08 586.60,373.25 C587.27,373.42 587.93,373.59 588.60,373.75 C589.27,373.92 589.93,374.09 590.60,374.25 C591.27,374.42 591.93,374.58 592.60,374.74 C593.27,374.90 593.93,375.06 594.60,375.22 C595.27,375.38 595.93,375.53 596.60,375.69 C597.27,375.85 597.93,376.00 598.60,376.15 C599.27,376.31 599.93,376.46 600.60,376.61 C601.27,376.76 601.93,376.91 602.60,377.05 C603.27,377.20 603.93,377.35 604.60,377.49 C605.27,377.64 605.93,377.78 606.60,377.92 C607.27,378.07 607.93,378.21 608.60,378.35 C609.27,378.49 609.93,378.63 610.60,378.76 C611.27,378.90 611.93,379.04 612.60,379.17 C613.27,379.31 613.93,379.44 614.60,379.58 C615.27,379.71 615.93,379.84 616.60,379.97 C617.27,380.11 617.93,380.24 618.60,380.37 C619.27,380.49 619.93,380.62 620.60,380.75 C621.27,380.88 621.93,381.00 622.60,381.13 C623.27,381.26 623.93,381.38 624.60,381.50 C625.27,381.63 625.93,381.75 626.60,381.87 C627.27,381.99 627.93,382.12 628.60,382.24 C629.27,382.36 629.93,382.48 630.60,382.60 C631.27,382.72 631.93,382.83 632.60,382.95 C633.27,383.07 633.93,383.19 634.60,383.30 C635.27,383.42 635.93,383.53 636.60,383.65 C637.27,383.76 637.93,383.88 638.60,383.99 C639.27,384.11 639.93,384.22 640.60,384.33 C641.27,384.44 641.93,384.56 642.60,384.67 C643.27,384.78 643.93,384.89 644.60,385.00 C645.27,385.11 645.93,385.22 646.60,385.33 C647.27,385.44 647.93,385.55 648.60,385.66 C649.27,385.77 649.93,385.88 650.60,385.98 C651.27,386.09 651.93,386.20 652.60,386.31 C653.27,386.41 653.93,386.52 654.60,386.63 C655.27,386.74 655.93,386.84 656.60,386.95 C657.27,387.06 657.93,387.16 658.60,387.27 C659.27,387.37 659.93,387.48 660.60,387.58 C661.27,387.69 661.93,387.80 662.60,387.90 C663.27,388.01 663.93,388.11 664.60,388.22 C665.27,388.32 665.93,388.43 666.60,388.53 C667.27,388.64 667.93,388.74 668.60,388.85 C669.27,388.95 669.93,389.06 670.60,389.16 C671.27,389.27 671.93,389.37 672.60,389.48 C673.27,389.58 673.93,389.69 674.60,389.79 C675.27,389.90 675.93,390.00 676.60,390.11 C677.27,390.21 677.93,390.32 678.60,390.42 C679.27,390.53 679.93,390.63 680.60,390.74 C681.27,390.84 681.93,390.95 682.60,391.05 C683.27,391.15 683.93,391.26 684.60,391.36 C685.27,391.46 685.93,391.57 686.60,391.67 C687.27,391.77 687.93,391.87 688.60,391.97 C689.27,392.07 689.93,392.17 690.60,392.27 C691.27,392.37 691.93,392.47 692.60,392.57 C693.27,392.67 693.93,392.77 694.60,392.87 C695.27,392.96 695.93,393.06 696.60,393.15 C697.27,393.25 697.93,393.34 698.60,393.44 C699.27,393.53 699.93,393.62 700.60,393.71 C701.27,393.81 701.93,393.90 702.60,393.99 C703.27,394.08 703.93,394.16 704.60,394.25 C705.27,394.34 705.93,394.42 706.60,394.51 C707.27,394.59 707.93,394.68 708.60,394.76 C709.27,394.84 709.93,394.92 710.60,395.00 C711.27,395.08 711.93,395.16 712.60,395.24 C713.27,395.31 713.93,395.39 714.60,395.46 C715.27,395.54 715.93,395.61 716.60,395.68 C717.27,395.75 717.93,395.82 718.60,395.88 C719.27,395.95 719.93,396.02 720.60,396.08 C721.27,396.14 721.93,396.21 722.60,396.27 C723.27,396.33 723.93,396.38 724.60,396.44 C725.27,396.50 725.93,396.55 726.60,396.60 C727.27,396.66 727.93,396.71 728.60,396.75 C729.27,396.80 729.93,396.85 730.60,396.89 C731.27,396.94 731.93,396.98 732.60,397.02 C733.27,397.06 733.93,397.09 734.60,397.13 C735.27,397.16 735.93,397.20 736.60,397.23 C737.27,397.26 737.93,397.29 738.60,397.31 C739.27,397.34 739.93,397.36 740.60,397.38 C741.27,397.40 741.93,397.42 742.60,397.43 C743.27,397.45 743.93,397.46 744.60,397.47 C745.27,397.48 745.93,397.49 746.60,397.50 C747.27,397.50 747.93,397.50 748.60,397.50 C749.27,397.51 749.93,397.51 750.60,397.52 C751.27,397.54 751.93,397.55 752.60,397.58 C753.27,397.62 753.93,397.66 754.60,397.72 C755.27,397.78 755.93,397.86 756.60,397.96 C757.27,398.06 757.93,398.19 758.60,398.32 C759.27,398.45 759.93,398.61 760.60,398.76 C761.27,398.90 761.93,399.09 762.60,399.18 C763.27,399.27 763.93,399.32 764.60,399.29 C765.27,399.26 765.93,399.08 766.60,398.97 C767.27,398.87 767.93,398.68 768.60,398.63 C769.27,398.58 769.93,398.56 770.60,398.66 C771.27,398.76 771.93,398.99 772.60,399.24 C773.27,399.48 773.93,399.88 774.60,400.14 C775.27,400.39 775.93,400.66 776.60,400.77 C777.27,400.88 777.93,400.87 778.60,400.79 C779.27,400.71 779.93,400.43 780.60,400.30 C781.27,400.17 781.93,399.97 782.60,400.00 C783.27,400.02 783.93,400.24 784.60,400.45 C785.27,400.67 785.93,401.06 786.60,401.29 C787.27,401.52 787.93,401.72 788.60,401.82 C789.27,401.92 789.93,401.89 790.60,401.87 C791.27,401.84 791.93,401.75 792.60,401.68 C793.27,401.62 793.93,401.52 794.60,401.49 C795.27,401.46 795.93,401.46 796.60,401.50 C797.27,401.54 797.93,401.63 798.60,401.72 C799.27,401.80 799.93,401.93 800.60,402.03 C801.27,402.13 801.93,402.24 802.60,402.34 C803.27,402.44 803.93,402.53 804.60,402.62 C805.27,402.71 805.93,402.80 806.60,402.88 C807.27,402.96 807.93,403.04 808.60,403.12 C809.27,403.19 809.93,403.26 810.60,403.33 C811.27,403.40 811.93,403.46 812.60,403.53 C813.27,403.59 813.93,403.65 814.60,403.70 C815.27,403.76 815.93,403.81 816.60,403.87 C817.27,403.92 817.93,403.97 818.60,404.02 C819.27,404.06 819.93,404.11 820.60,404.15 C821.27,404.20 821.93,404.24 822.60,404.28 C823.27,404.32 823.93,404.36 824.60,404.40 C825.27,404.44 825.93,404.48 826.60,404.52 C827.27,404.55 827.93,404.59 828.60,404.63 C829.27,404.66 829.93,404.70 830.60,404.74 C831.27,404.77 831.93,404.81 832.60,404.84 C833.27,404.88 833.93,404.92 834.60,404.95 C835.27,404.99 835.93,405.02 836.60,405.06 C837.27,405.09 837.93,405.13 838.60,405.16 C839.27,405.20 839.93,405.23 840.60,405.27 C841.27,405.30 841.93,405.33 842.60,405.37 C843.27,405.40 843.93,405.44 844.60,405.47 C845.27,405.50 845.93,405.54 846.60,405.57 C847.27,405.60 847.93,405.64 848.60,405.67 C849.27,405.70 849.93,405.73 850.60,405.77 C851.27,405.80 851.93,405.83 852.60,405.86 C853.27,405.89 853.93,405.93 854.60,405.96 C855.27,405.99 855.93,406.02 856.60,406.05 C857.27,406.08 857.93,406.11 858.60,406.14 C859.27,406.17 859.93,406.20 860.60,406.23 C861.27,406.26 861.93,406.29 862.60,406.32 C863.27,406.35 863.93,406.38 864.60,406.41 C865.27,406.44 865.93,406.47 866.60,406.49 C867.27,406.52 867.93,406.55 868.60,406.58 C869.27,406.61 869.93,406.63 870.60,406.66 C871.27,406.69 871.93,406.72 872.60,406.74 C873.27,406.77 873.93,406.79 874.60,406.82 C875.27,406.85 875.93,406.87 876.60,406.90 C877.27,406.92 877.93,406.95 878.60,406.97 C879.27,407.00 879.93,407.02 880.60,407.05 C881.27,407.07 881.93,407.10 882.60,407.12 C883.27,407.14 883.93,407.17 884.60,407.19 C885.27,407.21 885.93,407.23 886.60,407.26 C887.27,407.28 887.93,407.30 888.60,407.32 C889.27,407.34 889.93,407.37 890.60,407.39 C891.27,407.41 891.93,407.43 892.60,407.45 C893.27,407.47 893.93,407.49 894.60,407.51 C895.27,407.53 895.93,407.55 896.60,407.56 C897.27,407.58 897.93,407.60 898.60,407.62 C899.27,407.64 899.93,407.66 900.60,407.67 C901.27,407.69 901.93,407.71 902.60,407.72 C903.27,407.74 903.93,407.76 904.60,407.77 C905.27,407.79 905.93,407.80 906.60,407.82 C907.27,407.83 907.93,407.85 908.60,407.86 C909.27,407.88 909.93,407.89 910.60,407.90 C911.27,407.92 911.93,407.93 912.60,407.94 C913.27,407.96 913.93,407.97 914.60,407.98 C915.27,407.99 915.93,408.00 916.60,408.01 C917.27,408.02 917.93,408.03 918.60,408.04 C919.27,408.05 919.93,408.06 920.60,408.07 C921.27,408.08 921.93,408.09 922.60,408.10 C923.27,408.11 923.93,408.12 924.60,408.12 C925.27,408.13 925.93,408.14 926.60,408.14 C927.27,408.15 927.93,408.16 928.60,408.16 C929.27,408.17 929.93,408.17 930.60,408.18 C931.27,408.18 931.93,408.19 932.60,408.19 C933.27,408.19 933.93,408.20 934.60,408.20 C935.27,408.20 935.93,408.21 936.60,408.21 C937.27,408.21 937.93,408.21 938.60,408.21 C939.27,408.21 939.93,408.21 940.60,408.21 C941.27,408.21 941.93,408.21 942.60,408.21 C943.27,408.21 943.93,408.21 944.60,408.20 C945.27,408.20 945.93,408.20 946.60,408.20 C947.27,408.19 947.93,408.19 948.60,408.19 C949.27,408.18 949.93,408.18 950.60,408.17 C951.27,408.17 951.93,408.16 952.60,408.15 C953.27,408.15 953.93,408.14 954.60,408.13 C955.27,408.13 955.93,408.12 956.60,408.11 C957.27,408.10 957.93,408.09 958.60,408.08 C959.27,408.07 959.93,408.06 960.60,408.05 C961.27,408.04 961.93,408.03 962.60,408.02 C963.27,408.00 963.93,407.99 964.60,407.98 C965.27,407.97 965.93,407.95 966.60,407.94 C967.27,407.92 967.93,407.91 968.60,407.89 C969.27,407.88 969.93,407.86 970.60,407.85 C971.27,407.83 971.93,407.81 972.60,407.79 C973.27,407.78 973.93,407.76 974.60,407.74 C975.27,407.72 975.93,407.70 976.60,407.68 C977.27,407.66 977.93,407.64 978.60,407.62 C979.27,407.60 979.93,407.58 980.60,407.55 C981.27,407.53 981.93,407.51 982.60,407.48 C983.27,407.46 983.93,407.44 984.60,407.41 C985.27,407.39 985.93,407.36 986.60,407.33 C987.27,407.31 987.93,407.28 988.60,407.25 C989.27,407.22 989.93,407.20 990.60,407.17 C991.27,407.14 991.93,407.11 992.60,407.08 C993.27,407.05 993.93,407.02 994.60,406.99 C995.27,406.95 995.93,406.92 996.60,406.89 C997.27,406.86 997.93,406.82 998.60,406.79 C999.27,406.75 999.93,406.72 1000.60,406.68 C1001.27,406.65 1001.93,406.61 1002.60,406.57 C1003.27,406.54 1003.93,406.50 1004.60,406.46 C1005.27,406.42 1005.93,406.38 1006.60,406.34 C1007.27,406.30 1007.93,406.26 1008.60,406.22 C1009.27,406.18 1009.93,406.14 1010.60,406.10 C1011.27,406.05 1011.93,406.01 1012.60,405.97 C1013.27,405.92 1013.93,405.88 1014.60,405.83 C1015.27,405.79 1015.93,405.74 1016.60,405.69 C1017.27,405.65 1018.03,405.59 1018.60,405.55 C1019.17,405.51 1019.77,405.47 1020.00,405.45" stroke="#F5AF00"/>
</g>
<path d="M1019.3,448.6 L1019.3,5.0 L101.6,5.0" fill="none" stroke="#363636" stroke-width="1.85" stroke-linejoin="round"/>
<g filter="url(#gs)">
<text x="75.63" y="454.10" font-size="16.4" textLength="9.37" lengthAdjust="spacingAndGlyphs">0</text>
<text x="52.22" y="394.97" font-size="16.4" textLength="32.78" lengthAdjust="spacingAndGlyphs">0.02</text>
<text x="52.22" y="335.84" font-size="16.4" textLength="32.78" lengthAdjust="spacingAndGlyphs">0.04</text>
<text x="52.22" y="276.71" font-size="16.4" textLength="32.78" lengthAdjust="spacingAndGlyphs">0.06</text>
<text x="52.22" y="217.58" font-size="16.4" textLength="32.78" lengthAdjust="spacingAndGlyphs">0.08</text>
<text x="61.59" y="158.45" font-size="16.4" textLength="23.41" lengthAdjust="spacingAndGlyphs">0.1</text>
<text x="52.22" y="99.32" font-size="16.4" textLength="32.78" lengthAdjust="spacingAndGlyphs">0.12</text>
<text x="52.22" y="40.19" font-size="16.4" textLength="32.78" lengthAdjust="spacingAndGlyphs">0.14</text>
<text x="101.87" y="478.0" font-size="17.1" text-anchor="middle">350</text>
<text x="211.07" y="478.0" font-size="17.1" text-anchor="middle">600</text>
<text x="320.27" y="478.0" font-size="17.1" text-anchor="middle">850</text>
<text x="429.47" y="478.0" font-size="17.1" text-anchor="middle">1100</text>
<text x="538.67" y="478.0" font-size="17.1" text-anchor="middle">1350</text>
<text x="647.87" y="478.0" font-size="17.1" text-anchor="middle">1600</text>
<text x="757.07" y="478.0" font-size="17.1" text-anchor="middle">1850</text>
<text x="866.27" y="478.0" font-size="17.1" text-anchor="middle">2100</text>
<text x="975.47" y="478.0" font-size="17.1" text-anchor="middle">2350</text>
<text x="434.19" y="511.8" font-size="26.8" textLength="203.64" lengthAdjust="spacingAndGlyphs">Wavelength (nm)</text>
<text transform="translate(24.78,283.5) rotate(-90)" font-size="27.2" textLength="141.86" lengthAdjust="spacingAndGlyphs">Absorbance</text>
</g>
<path d="M766,24.9 H802.7" stroke="#4F81BD" stroke-width="2"/>
<path d="M766,58.45 H802.7" stroke="#C0504D" stroke-width="2"/>
<path d="M766,92.2 H802.7" stroke="#9BBB59" stroke-width="2"/>
<path d="M766,125.8 H802.7" stroke="#F5AF00" stroke-width="2"/>
<g filter="url(#gs)">
<text x="811.56" y="31.60" font-size="22.4" textLength="126.92" lengthAdjust="spacingAndGlyphs">As prepared</text>
<text x="811.54" y="65.50" font-size="22.4" textLength="161.68" lengthAdjust="spacingAndGlyphs">2 % HCl treated</text>
<text x="811.05" y="99.50" font-size="22.4" textLength="48.52" lengthAdjust="spacingAndGlyphs">SOCl</text>
<text x="859.53" y="104.50" font-size="16.2" textLength="9.34" lengthAdjust="spacingAndGlyphs">2</text>
<text x="878.88" y="99.50" font-size="22.4" textLength="77.04" lengthAdjust="spacingAndGlyphs">treated</text>
<text x="810.45" y="133.00" font-size="22.4" textLength="194.10" lengthAdjust="spacingAndGlyphs">2nd HCl treatment</text>
<text x="164.58" y="108.50" font-size="28.0" font-style="italic" textLength="14.66" lengthAdjust="spacingAndGlyphs">S</text>
<text x="178.32" y="115.60" font-size="18.6" font-style="italic" textLength="20.10" lengthAdjust="spacingAndGlyphs">33</text>
<text x="252.44" y="173.00" font-size="27.2" font-style="italic" textLength="25.01" lengthAdjust="spacingAndGlyphs">M</text>
<text x="277.57" y="180.50" font-size="18.0" font-style="italic" textLength="19.57" lengthAdjust="spacingAndGlyphs">11</text>
<text x="387.55" y="188.60" font-size="28.0" font-style="italic" textLength="14.29" lengthAdjust="spacingAndGlyphs">S</text>
<text x="401.98" y="196.00" font-size="18.6" font-style="italic" textLength="18.93" lengthAdjust="spacingAndGlyphs">22</text>
<text x="753.35" y="218.50" font-size="28.0" font-style="italic" textLength="15.02" lengthAdjust="spacingAndGlyphs">S</text>
<text x="768.33" y="225.60" font-size="18.0" font-style="italic" textLength="18.94" lengthAdjust="spacingAndGlyphs">11</text>
</g>
</svg></body></html>
